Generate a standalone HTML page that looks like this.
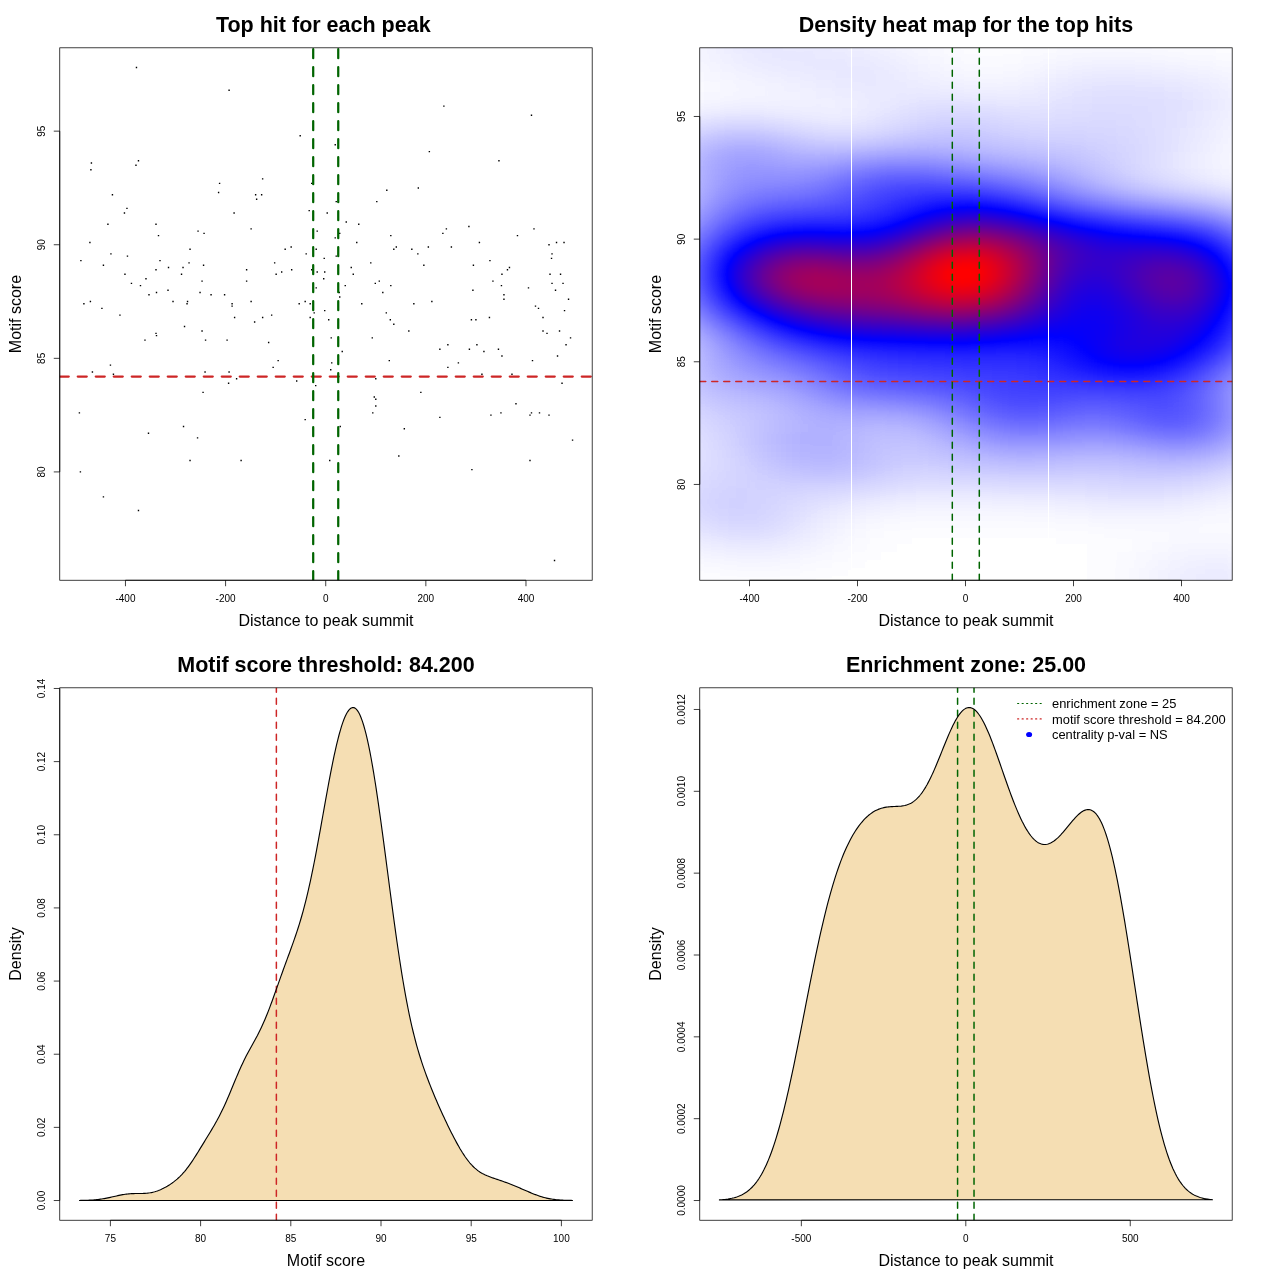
<!DOCTYPE html>
<html lang="en"><head><meta charset="utf-8"><title>Motif enrichment plots</title>
<style>
html,body{margin:0;padding:0;background:#fff}
body{width:1280px;height:1280px;overflow:hidden}
svg{display:block;font-family:'Liberation Sans', Arial, Helvetica, sans-serif}
text{fill:#000;text-anchor:middle}
.tk text{font-size:10px}
.lab{font-size:16px}
.ttl{font-size:21.5px;font-weight:bold}
.lg text{font-size:12.9px;text-anchor:start}
</style></head><body>
<svg width="1280" height="1280" viewBox="0 0 1280 1280">
<defs>
<clipPath id="c1"><rect x="59.76" y="47.81" width="532.43" height="532.43"/></clipPath>
<clipPath id="c2"><rect x="699.76" y="47.81" width="532.43" height="532.43"/></clipPath>
<clipPath id="c3"><rect x="59.76" y="687.81" width="532.43" height="532.43"/></clipPath>
<clipPath id="c4"><rect x="699.76" y="687.81" width="532.43" height="532.43"/></clipPath>
</defs>
<rect width="1280" height="1280" fill="#fff"/>
<g id="p1">
<path d="M135.77 66.84h1.4v1.4h-1.4zM137.77 159.98h1.4v1.4h-1.4zM135.27 164.53h1.4v1.4h-1.4zM90.71 162.26h1.4v1.4h-1.4zM90.21 169.07h1.4v1.4h-1.4zM228.39 89.56h1.4v1.4h-1.4zM299.49 134.99h1.4v1.4h-1.4zM261.94 178.16h1.4v1.4h-1.4zM443.18 105.46h1.4v1.4h-1.4zM334.53 144.08h1.4v1.4h-1.4zM428.66 150.9h1.4v1.4h-1.4zM530.79 114.55h1.4v1.4h-1.4zM498.25 159.98h1.4v1.4h-1.4zM111.74 194.06h1.4v1.4h-1.4zM126.26 207.69h1.4v1.4h-1.4zM123.75 212.23h1.4v1.4h-1.4zM107.23 223.59h1.4v1.4h-1.4zM155.3 223.59h1.4v1.4h-1.4zM157.8 234.95h1.4v1.4h-1.4zM89.21 241.77h1.4v1.4h-1.4zM189.34 248.58h1.4v1.4h-1.4zM110.24 253.13h1.4v1.4h-1.4zM126.76 255.4h1.4v1.4h-1.4zM80.2 259.94h1.4v1.4h-1.4zM159.3 259.94h1.4v1.4h-1.4zM188.34 262.21h1.4v1.4h-1.4zM102.73 264.49h1.4v1.4h-1.4zM167.81 266.76h1.4v1.4h-1.4zM182.33 266.76h1.4v1.4h-1.4zM155.3 269.03h1.4v1.4h-1.4zM124.26 273.57h1.4v1.4h-1.4zM180.83 273.57h1.4v1.4h-1.4zM145.28 278.12h1.4v1.4h-1.4zM130.76 282.66h1.4v1.4h-1.4zM139.78 284.93h1.4v1.4h-1.4zM167.31 289.48h1.4v1.4h-1.4zM155.8 291.75h1.4v1.4h-1.4zM148.29 294.02h1.4v1.4h-1.4zM89.71 300.84h1.4v1.4h-1.4zM172.32 300.84h1.4v1.4h-1.4zM186.84 300.84h1.4v1.4h-1.4zM83.2 303.11h1.4v1.4h-1.4zM186.34 303.11h1.4v1.4h-1.4zM101.22 307.65h1.4v1.4h-1.4zM218.88 182.7h1.4v1.4h-1.4zM311 182.7h1.4v1.4h-1.4zM217.88 191.79h1.4v1.4h-1.4zM254.93 194.06h1.4v1.4h-1.4zM260.94 194.06h1.4v1.4h-1.4zM255.93 198.6h1.4v1.4h-1.4zM308.5 209.96h1.4v1.4h-1.4zM233.4 212.23h1.4v1.4h-1.4zM250.42 228.14h1.4v1.4h-1.4zM197.35 230.41h1.4v1.4h-1.4zM203.36 232.68h1.4v1.4h-1.4zM316.51 230.41h1.4v1.4h-1.4zM290.47 246.31h1.4v1.4h-1.4zM284.47 248.58h1.4v1.4h-1.4zM315.51 248.58h1.4v1.4h-1.4zM305.49 253.13h1.4v1.4h-1.4zM323.52 257.67h1.4v1.4h-1.4zM273.95 262.21h1.4v1.4h-1.4zM202.86 264.49h1.4v1.4h-1.4zM245.92 269.03h1.4v1.4h-1.4zM290.98 269.03h1.4v1.4h-1.4zM311 269.03h1.4v1.4h-1.4zM280.96 271.3h1.4v1.4h-1.4zM316.51 271.3h1.4v1.4h-1.4zM324.02 271.3h1.4v1.4h-1.4zM275.45 273.57h1.4v1.4h-1.4zM323.02 278.12h1.4v1.4h-1.4zM201.36 280.39h1.4v1.4h-1.4zM245.92 280.39h1.4v1.4h-1.4zM315.51 287.2h1.4v1.4h-1.4zM199.35 291.75h1.4v1.4h-1.4zM210.37 294.02h1.4v1.4h-1.4zM223.89 294.02h1.4v1.4h-1.4zM250.42 300.84h1.4v1.4h-1.4zM304.49 300.84h1.4v1.4h-1.4zM298.49 303.11h1.4v1.4h-1.4zM309.5 303.11h1.4v1.4h-1.4zM231.4 303.11h1.4v1.4h-1.4zM231.4 305.38h1.4v1.4h-1.4zM324.02 309.92h1.4v1.4h-1.4zM313.5 312.19h1.4v1.4h-1.4zM417.64 187.25h1.4v1.4h-1.4zM386.1 189.52h1.4v1.4h-1.4zM335.53 200.88h1.4v1.4h-1.4zM376.09 200.88h1.4v1.4h-1.4zM326.52 212.23h1.4v1.4h-1.4zM345.55 221.32h1.4v1.4h-1.4zM358.06 223.59h1.4v1.4h-1.4zM445.68 228.14h1.4v1.4h-1.4zM339.04 232.68h1.4v1.4h-1.4zM442.17 232.68h1.4v1.4h-1.4zM390.11 234.95h1.4v1.4h-1.4zM334.53 237.22h1.4v1.4h-1.4zM356.06 241.77h1.4v1.4h-1.4zM395.61 246.31h1.4v1.4h-1.4zM427.66 246.31h1.4v1.4h-1.4zM450.69 246.31h1.4v1.4h-1.4zM393.11 248.58h1.4v1.4h-1.4zM411.13 248.58h1.4v1.4h-1.4zM417.14 253.13h1.4v1.4h-1.4zM335.53 255.4h1.4v1.4h-1.4zM370.08 262.21h1.4v1.4h-1.4zM423.15 264.49h1.4v1.4h-1.4zM350.55 266.76h1.4v1.4h-1.4zM352.56 273.57h1.4v1.4h-1.4zM378.59 280.39h1.4v1.4h-1.4zM374.59 282.66h1.4v1.4h-1.4zM344.55 284.93h1.4v1.4h-1.4zM390.11 284.93h1.4v1.4h-1.4zM382.1 291.75h1.4v1.4h-1.4zM338.54 291.75h1.4v1.4h-1.4zM339.04 296.29h1.4v1.4h-1.4zM431.16 300.84h1.4v1.4h-1.4zM361.07 303.11h1.4v1.4h-1.4zM413.14 303.11h1.4v1.4h-1.4zM385.6 312.19h1.4v1.4h-1.4zM468.21 225.87h1.4v1.4h-1.4zM533.29 228.14h1.4v1.4h-1.4zM516.77 234.95h1.4v1.4h-1.4zM478.72 241.77h1.4v1.4h-1.4zM555.82 241.77h1.4v1.4h-1.4zM563.33 241.77h1.4v1.4h-1.4zM548.31 244.04h1.4v1.4h-1.4zM551.32 253.13h1.4v1.4h-1.4zM550.82 257.67h1.4v1.4h-1.4zM489.24 259.94h1.4v1.4h-1.4zM472.71 264.49h1.4v1.4h-1.4zM508.76 266.76h1.4v1.4h-1.4zM506.76 269.03h1.4v1.4h-1.4zM501.25 273.57h1.4v1.4h-1.4zM549.32 273.57h1.4v1.4h-1.4zM559.83 273.57h1.4v1.4h-1.4zM492.24 280.39h1.4v1.4h-1.4zM551.32 282.66h1.4v1.4h-1.4zM562.33 282.66h1.4v1.4h-1.4zM500.75 284.93h1.4v1.4h-1.4zM527.79 287.2h1.4v1.4h-1.4zM472.21 289.48h1.4v1.4h-1.4zM554.82 289.48h1.4v1.4h-1.4zM503.25 294.02h1.4v1.4h-1.4zM503.25 298.56h1.4v1.4h-1.4zM567.84 298.56h1.4v1.4h-1.4zM534.8 305.38h1.4v1.4h-1.4zM537.8 307.65h1.4v1.4h-1.4zM563.83 309.92h1.4v1.4h-1.4zM119.25 314.47h1.4v1.4h-1.4zM183.83 325.82h1.4v1.4h-1.4zM155.3 332.64h1.4v1.4h-1.4zM155.8 334.91h1.4v1.4h-1.4zM144.28 339.46h1.4v1.4h-1.4zM109.74 364.45h1.4v1.4h-1.4zM91.71 371.26h1.4v1.4h-1.4zM112.74 373.53h1.4v1.4h-1.4zM78.7 412.15h1.4v1.4h-1.4zM182.83 425.78h1.4v1.4h-1.4zM147.79 432.6h1.4v1.4h-1.4zM270.95 314.47h1.4v1.4h-1.4zM233.9 316.74h1.4v1.4h-1.4zM261.94 316.74h1.4v1.4h-1.4zM309.5 316.74h1.4v1.4h-1.4zM253.93 321.28h1.4v1.4h-1.4zM201.36 330.37h1.4v1.4h-1.4zM204.86 339.46h1.4v1.4h-1.4zM226.39 339.46h1.4v1.4h-1.4zM267.94 341.73h1.4v1.4h-1.4zM277.46 359.9h1.4v1.4h-1.4zM272.45 366.72h1.4v1.4h-1.4zM204.36 371.26h1.4v1.4h-1.4zM228.39 371.26h1.4v1.4h-1.4zM235.9 378.08h1.4v1.4h-1.4zM295.98 380.35h1.4v1.4h-1.4zM227.89 382.62h1.4v1.4h-1.4zM315.01 384.89h1.4v1.4h-1.4zM202.36 391.71h1.4v1.4h-1.4zM304.49 418.97h1.4v1.4h-1.4zM196.85 437.14h1.4v1.4h-1.4zM328.02 319.01h1.4v1.4h-1.4zM389.61 319.01h1.4v1.4h-1.4zM393.11 323.55h1.4v1.4h-1.4zM408.13 330.37h1.4v1.4h-1.4zM330.53 337.18h1.4v1.4h-1.4zM371.58 337.18h1.4v1.4h-1.4zM447.18 344h1.4v1.4h-1.4zM439.17 348.54h1.4v1.4h-1.4zM341.54 350.81h1.4v1.4h-1.4zM388.6 359.9h1.4v1.4h-1.4zM331.03 362.17h1.4v1.4h-1.4zM457.69 362.17h1.4v1.4h-1.4zM447.18 366.72h1.4v1.4h-1.4zM330.03 368.99h1.4v1.4h-1.4zM375.09 378.08h1.4v1.4h-1.4zM420.15 391.71h1.4v1.4h-1.4zM373.58 396.25h1.4v1.4h-1.4zM375.09 398.52h1.4v1.4h-1.4zM375.09 405.34h1.4v1.4h-1.4zM372.08 412.15h1.4v1.4h-1.4zM439.17 416.7h1.4v1.4h-1.4zM339.54 425.78h1.4v1.4h-1.4zM403.62 428.06h1.4v1.4h-1.4zM488.74 316.74h1.4v1.4h-1.4zM542.31 316.74h1.4v1.4h-1.4zM470.71 319.01h1.4v1.4h-1.4zM475.22 319.01h1.4v1.4h-1.4zM542.31 330.37h1.4v1.4h-1.4zM558.83 330.37h1.4v1.4h-1.4zM546.31 332.64h1.4v1.4h-1.4zM569.84 337.18h1.4v1.4h-1.4zM476.22 344h1.4v1.4h-1.4zM565.34 344h1.4v1.4h-1.4zM468.71 348.54h1.4v1.4h-1.4zM497.75 348.54h1.4v1.4h-1.4zM483.23 350.81h1.4v1.4h-1.4zM501.25 355.36h1.4v1.4h-1.4zM556.83 355.36h1.4v1.4h-1.4zM531.79 359.9h1.4v1.4h-1.4zM481.23 373.53h1.4v1.4h-1.4zM511.27 373.53h1.4v1.4h-1.4zM561.33 382.62h1.4v1.4h-1.4zM515.27 403.07h1.4v1.4h-1.4zM500.25 412.15h1.4v1.4h-1.4zM530.79 412.15h1.4v1.4h-1.4zM538.8 412.15h1.4v1.4h-1.4zM490.24 414.43h1.4v1.4h-1.4zM529.29 414.43h1.4v1.4h-1.4zM548.31 414.43h1.4v1.4h-1.4zM571.85 439.41h1.4v1.4h-1.4zM189.34 459.86h1.4v1.4h-1.4zM79.7 471.22h1.4v1.4h-1.4zM102.73 496.21h1.4v1.4h-1.4zM137.77 509.84h1.4v1.4h-1.4zM240.41 459.86h1.4v1.4h-1.4zM398.12 455.32h1.4v1.4h-1.4zM329.03 459.86h1.4v1.4h-1.4zM529.29 459.86h1.4v1.4h-1.4zM471.21 468.95h1.4v1.4h-1.4zM553.82 559.82h1.4v1.4h-1.4z" fill="#000"/>
<g clip-path="url(#c1)">
<line x1="59.76" y1="376.5" x2="592.19" y2="376.5" stroke="#CD2626" stroke-width="2.25" stroke-dasharray="9 9" stroke-linecap="round"/>
<line x1="313.2" y1="580.24" x2="313.2" y2="47.81" stroke="#006400" stroke-width="2.25" stroke-dasharray="9 9" stroke-linecap="round"/>
<line x1="338.24" y1="580.24" x2="338.24" y2="47.81" stroke="#006400" stroke-width="2.25" stroke-dasharray="9 9" stroke-linecap="round"/>
</g>
<rect x="59.76" y="47.81" width="532.43" height="532.43" fill="none" stroke="#000" stroke-width="0.75"/>
<path d="M125.46 580.24H525.98M125.46 580.24v5.98M225.59 580.24v5.98M325.72 580.24v5.98M425.85 580.24v5.98M525.98 580.24v5.98M59.76 471.92V131.15M59.76 471.92h-5.98M59.76 358.33h-5.98M59.76 244.74h-5.98M59.76 131.15h-5.98" fill="none" stroke="#000" stroke-width="0.75"/>
<g class="tk">
<text x="125.46" y="602">-400</text>
<text x="225.59" y="602">-200</text>
<text x="325.72" y="602">0</text>
<text x="425.85" y="602">200</text>
<text x="525.98" y="602">400</text>
<text transform="translate(44.5 471.92) rotate(-90)">80</text>
<text transform="translate(44.5 358.33) rotate(-90)">85</text>
<text transform="translate(44.5 244.74) rotate(-90)">90</text>
<text transform="translate(44.5 131.15) rotate(-90)">95</text>
</g>
<text class="lab" x="325.98" y="626.2">Distance to peak summit</text>
<text class="lab" transform="translate(21.4 314.02) rotate(-90)">Motif score</text>
<text class="ttl" x="323.28" y="31.6">Top hit for each peak</text>
</g>
<g id="p2">
<filter id="hm" filterUnits="userSpaceOnUse" x="640" y="0" width="640" height="640" color-interpolation-filters="sRGB"><feGaussianBlur stdDeviation="16 8"/><feComponentTransfer><feFuncR type="table" tableValues="1 0.9167 0.8333 0.75 0.6667 0.5833 0.5 0.4167 0.3333 0.25 0.1667 0.0833 0 0.0833 0.1667 0.25 0.3333 0.4167 0.5 0.5833 0.6667 0.75 0.8333 0.9167 1 1"/><feFuncG type="table" tableValues="1 0.9167 0.8333 0.75 0.6667 0.5833 0.5 0.4167 0.3333 0.25 0.1667 0.0833 0 0 0 0 0 0 0 0 0 0 0 0 0 0"/><feFuncB type="table" tableValues="1 1 1 1 1 1 1 1 1 1 1 1 1 0.9167 0.8333 0.75 0.6667 0.5833 0.5 0.4167 0.3333 0.25 0.1667 0.0833 0 0"/></feComponentTransfer></filter>
<g clip-path="url(#c2)"><g filter="url(#hm)" shape-rendering="crispEdges">
<rect x="640" y="0" width="640" height="640" fill="#000"/>
<path fill="#000000" d="M640 16h16v8h-16zM928 16h352v8h-352zM944 24h336v8h-336zM960 32h80v8h-80zM1184 32h96v8h-96zM1232 40h48v8h-48zM1264 48h16v8h-16zM640 80h16v8h-16zM912 536h144v8h-144zM896 544h192v8h-192zM880 552h208v8h-208zM864 560h224v8h-224zM640 568h16v8h-16zM848 568h240v8h-240zM640 576h48v8h-48zM816 576h272v8h-272zM640 584h448v8h-448zM640 592h448v8h-448zM640 600h464v8h-464zM640 608h464v8h-464z"/>
<path fill="#010101" d="M656 16h16v8h-16zM880 16h48v8h-48zM640 24h32v8h-32zM912 24h32v8h-32zM640 32h32v8h-32zM928 32h32v8h-32zM1040 32h144v8h-144zM640 40h16v8h-16zM944 40h112v8h-112zM1152 40h80v8h-80zM640 48h16v8h-16zM960 48h64v8h-64zM1216 48h48v8h-48zM640 56h16v8h-16zM976 56h16v8h-16zM1248 56h32v8h-32zM640 64h32v8h-32zM1264 64h16v8h-16zM640 72h32v8h-32zM656 80h32v8h-32zM640 88h32v8h-32zM640 96h16v8h-16zM1264 136h16v8h-16zM1264 144h16v8h-16zM1264 152h16v8h-16zM1264 160h16v8h-16zM1264 168h16v8h-16zM1264 504h16v8h-16zM1248 512h32v8h-32zM1232 520h48v8h-48zM880 528h224v8h-224zM1248 528h32v8h-32zM864 536h48v8h-48zM1056 536h80v8h-80zM1264 536h16v8h-16zM864 544h32v8h-32zM1088 544h48v8h-48zM640 552h16v8h-16zM848 552h32v8h-32zM1088 552h32v8h-32zM640 560h32v8h-32zM832 560h32v8h-32zM1088 560h32v8h-32zM656 568h64v8h-64zM800 568h48v8h-48zM1088 568h32v8h-32zM688 576h128v8h-128zM1088 576h16v8h-16zM1088 584h32v8h-32zM1088 592h32v8h-32zM1104 600h16v8h-16zM1104 608h32v8h-32z"/>
<path fill="#020202" d="M672 16h32v8h-32zM848 16h32v8h-32zM672 24h16v8h-16zM880 24h32v8h-32zM912 32h16v8h-16zM656 40h16v8h-16zM928 40h16v8h-16zM1056 40h96v8h-96zM656 48h16v8h-16zM944 48h16v8h-16zM1024 48h32v8h-32zM1168 48h48v8h-48zM656 56h16v8h-16zM960 56h16v8h-16zM992 56h32v8h-32zM1216 56h32v8h-32zM672 64h16v8h-16zM976 64h32v8h-32zM1248 64h16v8h-16zM672 72h16v8h-16zM1264 72h16v8h-16zM688 80h16v8h-16zM1264 80h16v8h-16zM672 88h32v8h-32zM656 96h32v8h-32zM640 104h16v8h-16zM1264 112h16v8h-16zM1264 120h16v8h-16zM1264 128h16v8h-16zM1248 136h16v8h-16zM1248 144h16v8h-16zM1248 152h16v8h-16zM1248 160h16v8h-16zM1248 168h16v8h-16zM1264 176h16v8h-16zM1264 496h16v8h-16zM1248 504h16v8h-16zM1232 512h16v8h-16zM880 520h208v8h-208zM1200 520h32v8h-32zM864 528h16v8h-16zM1104 528h144v8h-144zM848 536h16v8h-16zM1136 536h32v8h-32zM1232 536h32v8h-32zM640 544h16v8h-16zM848 544h16v8h-16zM1136 544h16v8h-16zM1264 544h16v8h-16zM656 552h16v8h-16zM832 552h16v8h-16zM1120 552h16v8h-16zM672 560h32v8h-32zM800 560h32v8h-32zM1120 560h16v8h-16zM720 568h80v8h-80zM1120 568h16v8h-16zM1104 576h16v8h-16zM1120 584h16v8h-16zM1120 592h16v8h-16zM1120 600h16v8h-16zM1136 608h16v8h-16zM1264 608h16v8h-16z"/>
<path fill="#030303" d="M704 16h16v8h-16zM816 16h32v8h-32zM688 24h16v8h-16zM848 24h32v8h-32zM672 32h16v8h-16zM880 32h32v8h-32zM672 40h16v8h-16zM912 40h16v8h-16zM672 48h16v8h-16zM928 48h16v8h-16zM1056 48h112v8h-112zM672 56h16v8h-16zM944 56h16v8h-16zM1024 56h16v8h-16zM1184 56h32v8h-32zM688 64h16v8h-16zM944 64h32v8h-32zM1008 64h16v8h-16zM1232 64h16v8h-16zM688 72h16v8h-16zM1248 72h16v8h-16zM704 80h16v8h-16zM1248 80h16v8h-16zM704 88h32v8h-32zM1264 88h16v8h-16zM688 96h16v8h-16zM1264 96h16v8h-16zM656 104h16v8h-16zM1264 104h16v8h-16zM640 112h16v8h-16zM1248 120h16v8h-16zM1248 128h16v8h-16zM1232 144h16v8h-16zM1232 152h16v8h-16zM1232 160h16v8h-16zM1232 504h16v8h-16zM896 512h160v8h-160zM1200 512h32v8h-32zM864 520h16v8h-16zM1088 520h112v8h-112zM848 528h16v8h-16zM640 536h16v8h-16zM1168 536h64v8h-64zM656 544h16v8h-16zM832 544h16v8h-16zM1152 544h16v8h-16zM1248 544h16v8h-16zM672 552h16v8h-16zM816 552h16v8h-16zM1136 552h16v8h-16zM1264 552h16v8h-16zM704 560h32v8h-32zM784 560h16v8h-16zM1136 560h16v8h-16zM1120 576h16v8h-16zM1136 592h16v8h-16zM1136 600h16v8h-16zM1264 600h16v8h-16zM1152 608h32v8h-32zM1248 608h16v8h-16z"/>
<path fill="#040404" d="M720 16h16v8h-16zM800 16h16v8h-16zM832 24h16v8h-16zM688 32h16v8h-16zM864 32h16v8h-16zM688 40h16v8h-16zM896 40h16v8h-16zM688 48h16v8h-16zM912 48h16v8h-16zM688 56h16v8h-16zM928 56h16v8h-16zM1040 56h32v8h-32zM1152 56h32v8h-32zM1024 64h16v8h-16zM1216 64h16v8h-16zM704 72h16v8h-16zM960 72h64v8h-64zM1232 72h16v8h-16zM720 80h16v8h-16zM736 88h16v8h-16zM1248 88h16v8h-16zM704 96h16v8h-16zM1248 96h16v8h-16zM672 104h16v8h-16zM1248 104h16v8h-16zM1248 112h16v8h-16zM1232 128h16v8h-16zM1232 136h16v8h-16zM1232 168h16v8h-16zM1248 176h16v8h-16zM1264 184h16v8h-16zM1264 488h16v8h-16zM1248 496h16v8h-16zM1216 504h16v8h-16zM880 512h16v8h-16zM1056 512h32v8h-32zM1184 512h16v8h-16zM848 520h16v8h-16zM640 528h16v8h-16zM656 536h16v8h-16zM832 536h16v8h-16zM672 544h16v8h-16zM816 544h16v8h-16zM1168 544h80v8h-80zM688 552h16v8h-16zM800 552h16v8h-16zM1152 552h16v8h-16zM1248 552h16v8h-16zM736 560h48v8h-48zM1264 560h16v8h-16zM1136 568h16v8h-16zM1136 576h16v8h-16zM1136 584h16v8h-16zM1264 592h16v8h-16zM1152 600h16v8h-16zM1248 600h16v8h-16zM1184 608h64v8h-64z"/>
<path fill="#050505" d="M736 16h64v8h-64zM704 24h16v8h-16zM816 24h16v8h-16zM848 32h16v8h-16zM880 40h16v8h-16zM896 48h16v8h-16zM912 56h16v8h-16zM1072 56h80v8h-80zM704 64h16v8h-16zM928 64h16v8h-16zM1040 64h16v8h-16zM1184 64h32v8h-32zM720 72h16v8h-16zM944 72h16v8h-16zM1024 72h16v8h-16zM1216 72h16v8h-16zM736 80h32v8h-32zM976 80h32v8h-32zM1232 80h16v8h-16zM752 88h32v8h-32zM720 96h48v8h-48zM688 104h16v8h-16zM656 112h16v8h-16zM640 120h16v8h-16zM1232 120h16v8h-16zM1216 144h16v8h-16zM1216 152h16v8h-16zM1216 160h16v8h-16zM1216 168h16v8h-16zM1232 176h16v8h-16zM1232 496h16v8h-16zM912 504h112v8h-112zM1200 504h16v8h-16zM864 512h16v8h-16zM1088 512h96v8h-96zM640 520h16v8h-16zM832 528h16v8h-16zM816 536h16v8h-16zM704 552h16v8h-16zM784 552h16v8h-16zM1168 552h16v8h-16zM1232 552h16v8h-16zM1152 560h16v8h-16zM1264 568h16v8h-16zM1264 576h16v8h-16zM1264 584h16v8h-16zM1152 592h16v8h-16zM1168 600h16v8h-16zM1232 600h16v8h-16z"/>
<path fill="#060606" d="M720 24h16v8h-16zM800 24h16v8h-16zM704 32h16v8h-16zM832 32h16v8h-16zM704 40h16v8h-16zM864 40h16v8h-16zM704 48h16v8h-16zM704 56h16v8h-16zM720 64h16v8h-16zM912 64h16v8h-16zM1056 64h16v8h-16zM1168 64h16v8h-16zM736 72h16v8h-16zM928 72h16v8h-16zM768 80h16v8h-16zM960 80h16v8h-16zM1008 80h16v8h-16zM784 88h16v8h-16zM1232 88h16v8h-16zM768 96h48v8h-48zM1232 96h16v8h-16zM704 104h16v8h-16zM1232 104h16v8h-16zM1232 112h16v8h-16zM1216 128h16v8h-16zM1216 136h16v8h-16zM1248 184h16v8h-16zM640 440h16v8h-16zM640 448h16v8h-16zM640 456h16v8h-16zM1264 480h16v8h-16zM1248 488h16v8h-16zM896 504h16v8h-16zM1024 504h48v8h-48zM1184 504h16v8h-16zM640 512h16v8h-16zM848 512h16v8h-16zM832 520h16v8h-16zM656 528h16v8h-16zM672 536h16v8h-16zM688 544h16v8h-16zM800 544h16v8h-16zM720 552h64v8h-64zM1184 552h48v8h-48zM1168 560h16v8h-16zM1248 560h16v8h-16zM1152 568h16v8h-16zM1152 576h16v8h-16zM1152 584h16v8h-16zM1168 592h16v8h-16zM1248 592h16v8h-16zM1184 600h48v8h-48z"/>
<path fill="#070707" d="M736 24h64v8h-64zM720 32h16v8h-16zM816 32h16v8h-16zM848 40h16v8h-16zM880 48h16v8h-16zM720 56h16v8h-16zM896 56h16v8h-16zM736 64h16v8h-16zM1072 64h16v8h-16zM1136 64h32v8h-32zM752 72h16v8h-16zM912 72h16v8h-16zM1040 72h16v8h-16zM1200 72h16v8h-16zM784 80h16v8h-16zM928 80h32v8h-32zM1024 80h16v8h-16zM1216 80h16v8h-16zM800 88h16v8h-16zM816 96h16v8h-16zM720 104h16v8h-16zM768 104h80v8h-80zM672 112h16v8h-16zM1216 120h16v8h-16zM1200 152h16v8h-16zM1200 160h16v8h-16zM1200 168h16v8h-16zM1216 176h16v8h-16zM1264 192h16v8h-16zM640 432h16v8h-16zM640 464h16v8h-16zM640 472h16v8h-16zM1216 496h16v8h-16zM864 504h32v8h-32zM1072 504h16v8h-16zM1168 504h16v8h-16zM816 528h16v8h-16zM784 544h16v8h-16zM1184 560h16v8h-16zM1232 560h16v8h-16zM1168 568h16v8h-16zM1248 568h16v8h-16zM1248 576h16v8h-16zM1168 584h16v8h-16zM1248 584h16v8h-16zM1184 592h16v8h-16zM1232 592h16v8h-16z"/>
<path fill="#080808" d="M800 32h16v8h-16zM720 40h16v8h-16zM832 40h16v8h-16zM720 48h16v8h-16zM864 48h16v8h-16zM880 56h16v8h-16zM896 64h16v8h-16zM1088 64h48v8h-48zM768 72h16v8h-16zM1056 72h16v8h-16zM1184 72h16v8h-16zM800 80h16v8h-16zM816 88h16v8h-16zM960 88h64v8h-64zM1216 88h16v8h-16zM832 96h32v8h-32zM736 104h32v8h-32zM848 104h16v8h-16zM816 112h32v8h-32zM1216 112h16v8h-16zM656 120h16v8h-16zM640 128h16v8h-16zM1200 136h16v8h-16zM1200 144h16v8h-16zM640 416h16v8h-16zM640 424h16v8h-16zM656 448h16v8h-16zM656 456h16v8h-16zM1264 472h16v8h-16zM640 480h16v8h-16zM1248 480h16v8h-16zM640 488h16v8h-16zM1232 488h16v8h-16zM640 496h16v8h-16zM912 496h80v8h-80zM1200 496h16v8h-16zM640 504h16v8h-16zM1088 504h80v8h-80zM832 512h16v8h-16zM656 520h16v8h-16zM816 520h16v8h-16zM800 536h16v8h-16zM704 544h16v8h-16zM1200 560h32v8h-32zM1232 568h16v8h-16zM1168 576h16v8h-16zM1232 584h16v8h-16zM1200 592h32v8h-32z"/>
<path fill="#090909" d="M736 32h64v8h-64zM816 40h16v8h-16zM848 48h16v8h-16zM736 56h16v8h-16zM752 64h32v8h-32zM784 72h32v8h-32zM896 72h16v8h-16zM1152 72h32v8h-32zM816 80h16v8h-16zM912 80h16v8h-16zM1040 80h16v8h-16zM1200 80h16v8h-16zM832 88h32v8h-32zM944 88h16v8h-16zM1024 88h16v8h-16zM864 96h16v8h-16zM1216 96h16v8h-16zM1216 104h16v8h-16zM688 112h16v8h-16zM800 112h16v8h-16zM848 112h16v8h-16zM1200 128h16v8h-16zM1184 152h16v8h-16zM1184 160h16v8h-16zM1184 168h16v8h-16zM1200 176h16v8h-16zM1232 184h16v8h-16zM640 408h16v8h-16zM656 432h16v8h-16zM656 440h16v8h-16zM656 464h16v8h-16zM896 496h16v8h-16zM992 496h64v8h-64zM848 504h16v8h-16zM672 528h16v8h-16zM688 536h16v8h-16zM720 544h64v8h-64zM1184 568h48v8h-48zM1184 576h16v8h-16zM1232 576h16v8h-16zM1184 584h48v8h-48z"/>
<path fill="#0a0a0a" d="M736 40h16v8h-16zM784 40h32v8h-32zM736 48h16v8h-16zM816 48h32v8h-32zM752 56h16v8h-16zM848 56h32v8h-32zM784 64h16v8h-16zM880 64h16v8h-16zM816 72h16v8h-16zM880 72h16v8h-16zM1072 72h32v8h-32zM1120 72h32v8h-32zM832 80h16v8h-16zM880 80h32v8h-32zM1056 80h16v8h-16zM1184 80h16v8h-16zM864 88h80v8h-80zM1040 88h16v8h-16zM1200 88h16v8h-16zM880 96h16v8h-16zM992 96h32v8h-32zM864 104h16v8h-16zM784 112h16v8h-16zM1200 112h16v8h-16zM1200 120h16v8h-16zM640 136h16v8h-16zM1184 144h16v8h-16zM640 344h16v8h-16zM640 352h16v8h-16zM640 360h16v8h-16zM640 392h16v8h-16zM640 400h16v8h-16zM656 472h16v8h-16zM1216 488h16v8h-16zM880 496h16v8h-16zM1056 496h32v8h-32zM1184 496h16v8h-16zM832 504h16v8h-16zM656 512h16v8h-16zM816 512h16v8h-16zM800 528h16v8h-16zM784 536h16v8h-16zM1200 576h32v8h-32z"/>
<path fill="#0b0b0b" d="M752 40h32v8h-32zM752 48h64v8h-64zM768 56h80v8h-80zM800 64h80v8h-80zM832 72h48v8h-48zM1104 72h16v8h-16zM848 80h32v8h-32zM1168 80h16v8h-16zM896 96h16v8h-16zM976 96h16v8h-16zM1024 96h16v8h-16zM1200 96h16v8h-16zM880 104h16v8h-16zM1200 104h16v8h-16zM704 112h16v8h-16zM768 112h16v8h-16zM864 112h16v8h-16zM672 120h16v8h-16zM816 120h48v8h-48zM656 128h16v8h-16zM1184 128h16v8h-16zM1184 136h16v8h-16zM640 144h16v8h-16zM1248 192h16v8h-16zM640 336h16v8h-16zM640 368h16v8h-16zM640 376h16v8h-16zM640 384h16v8h-16zM656 424h16v8h-16zM672 440h16v8h-16zM672 448h16v8h-16zM672 456h16v8h-16zM1264 464h16v8h-16zM1248 472h16v8h-16zM656 480h16v8h-16zM1232 480h16v8h-16zM864 496h16v8h-16zM1088 496h16v8h-16zM1168 496h16v8h-16zM656 504h16v8h-16zM672 520h16v8h-16zM800 520h16v8h-16zM704 536h16v8h-16z"/>
<path fill="#0c0c0c" d="M1072 80h32v8h-32zM1136 80h32v8h-32zM1056 88h16v8h-16zM1184 88h16v8h-16zM912 96h64v8h-64zM1040 96h16v8h-16zM720 112h48v8h-48zM1184 112h16v8h-16zM1184 120h16v8h-16zM640 152h16v8h-16zM1168 152h16v8h-16zM1168 160h16v8h-16zM640 168h16v8h-16zM1168 168h16v8h-16zM640 176h16v8h-16zM1184 176h16v8h-16zM640 184h16v8h-16zM1216 184h16v8h-16zM640 192h16v8h-16zM640 200h16v8h-16zM1264 200h16v8h-16zM640 328h16v8h-16zM656 416h16v8h-16zM672 432h16v8h-16zM672 464h16v8h-16zM656 488h16v8h-16zM912 488h80v8h-80zM1200 488h16v8h-16zM656 496h16v8h-16zM848 496h16v8h-16zM1104 496h64v8h-64zM816 504h16v8h-16zM688 528h16v8h-16zM784 528h16v8h-16zM720 536h16v8h-16zM768 536h16v8h-16z"/>
<path fill="#0d0d0d" d="M1104 80h32v8h-32zM1072 88h16v8h-16zM1168 88h16v8h-16zM1056 96h16v8h-16zM1184 96h16v8h-16zM896 104h16v8h-16zM992 104h64v8h-64zM1184 104h16v8h-16zM880 112h16v8h-16zM800 120h16v8h-16zM864 120h16v8h-16zM1168 128h16v8h-16zM1168 136h16v8h-16zM1168 144h16v8h-16zM640 160h16v8h-16zM656 408h16v8h-16zM672 472h16v8h-16zM896 488h16v8h-16zM992 488h64v8h-64zM672 512h16v8h-16zM800 512h16v8h-16zM736 536h32v8h-32z"/>
<path fill="#0e0e0e" d="M1088 88h80v8h-80zM1072 96h16v8h-16zM1168 96h16v8h-16zM976 104h16v8h-16zM1056 104h16v8h-16zM1168 104h16v8h-16zM1168 112h16v8h-16zM688 120h16v8h-16zM784 120h16v8h-16zM1168 120h16v8h-16zM1152 160h16v8h-16zM1168 176h16v8h-16zM1200 184h16v8h-16zM640 208h16v8h-16zM656 400h16v8h-16zM672 424h16v8h-16zM688 440h16v8h-16zM688 448h16v8h-16zM688 456h16v8h-16zM1264 456h16v8h-16zM688 464h16v8h-16zM672 480h16v8h-16zM1216 480h16v8h-16zM880 488h16v8h-16zM1056 488h32v8h-32zM1184 488h16v8h-16zM832 496h16v8h-16zM800 504h16v8h-16zM688 520h16v8h-16zM784 520h16v8h-16zM704 528h16v8h-16z"/>
<path fill="#0f0f0f" d="M1088 96h80v8h-80zM912 104h16v8h-16zM960 104h16v8h-16zM1072 104h16v8h-16zM1152 104h16v8h-16zM896 112h16v8h-16zM1008 112h48v8h-48zM1152 112h16v8h-16zM880 120h16v8h-16zM1152 120h16v8h-16zM672 128h16v8h-16zM832 128h16v8h-16zM1152 128h16v8h-16zM656 136h16v8h-16zM1152 136h16v8h-16zM1152 144h16v8h-16zM1152 152h16v8h-16zM1152 168h16v8h-16zM1232 192h16v8h-16zM640 320h16v8h-16zM656 392h16v8h-16zM672 416h16v8h-16zM688 432h16v8h-16zM1248 464h16v8h-16zM1232 472h16v8h-16zM928 480h16v8h-16zM672 488h16v8h-16zM864 488h16v8h-16zM1088 488h16v8h-16zM1168 488h16v8h-16zM672 496h16v8h-16zM816 496h16v8h-16zM672 504h16v8h-16zM768 528h16v8h-16z"/>
<path fill="#101010" d="M928 104h32v8h-32zM1088 104h64v8h-64zM1056 112h32v8h-32zM1136 112h16v8h-16zM1136 120h16v8h-16zM816 128h16v8h-16zM848 128h16v8h-16zM640 216h16v8h-16zM656 344h16v8h-16zM656 352h16v8h-16zM656 360h16v8h-16zM656 384h16v8h-16zM672 408h16v8h-16zM704 448h16v8h-16zM1264 448h16v8h-16zM704 456h16v8h-16zM688 472h16v8h-16zM912 480h16v8h-16zM944 480h32v8h-32zM1200 480h16v8h-16zM1104 488h64v8h-64zM800 496h16v8h-16zM784 512h16v8h-16zM720 528h16v8h-16zM752 528h16v8h-16z"/>
<path fill="#111111" d="M912 112h16v8h-16zM992 112h16v8h-16zM1088 112h48v8h-48zM704 120h16v8h-16zM768 120h16v8h-16zM1024 120h48v8h-48zM1120 120h16v8h-16zM864 128h16v8h-16zM1136 128h16v8h-16zM1136 136h16v8h-16zM656 144h16v8h-16zM1136 152h16v8h-16zM1136 160h16v8h-16zM1136 168h16v8h-16zM1152 176h16v8h-16zM1184 184h16v8h-16zM1248 200h16v8h-16zM1264 208h16v8h-16zM656 336h16v8h-16zM656 368h16v8h-16zM656 376h16v8h-16zM688 424h16v8h-16zM704 440h16v8h-16zM704 464h16v8h-16zM688 480h16v8h-16zM896 480h16v8h-16zM976 480h32v8h-32zM848 488h16v8h-16zM784 504h16v8h-16zM688 512h16v8h-16zM704 520h16v8h-16zM768 520h16v8h-16zM736 528h16v8h-16z"/>
<path fill="#121212" d="M976 112h16v8h-16zM720 120h16v8h-16zM752 120h16v8h-16zM896 120h16v8h-16zM1008 120h16v8h-16zM1072 120h48v8h-48zM800 128h16v8h-16zM1120 128h16v8h-16zM1136 144h16v8h-16zM656 176h16v8h-16zM656 184h16v8h-16zM640 224h16v8h-16zM640 312h16v8h-16zM672 400h16v8h-16zM688 416h16v8h-16zM704 432h16v8h-16zM704 472h16v8h-16zM1216 472h16v8h-16zM880 480h16v8h-16zM1008 480h80v8h-80zM1184 480h16v8h-16zM688 488h16v8h-16zM832 488h16v8h-16zM784 496h16v8h-16zM688 504h16v8h-16zM768 512h16v8h-16z"/>
<path fill="#131313" d="M928 112h48v8h-48zM736 120h16v8h-16zM880 128h16v8h-16zM1088 128h32v8h-32zM1120 136h16v8h-16zM1120 144h16v8h-16zM656 152h16v8h-16zM656 160h16v8h-16zM656 168h16v8h-16zM656 192h16v8h-16zM1216 192h16v8h-16zM656 328h16v8h-16zM704 424h16v8h-16zM1264 440h16v8h-16zM720 456h16v8h-16zM1248 456h16v8h-16zM720 464h16v8h-16zM1232 464h16v8h-16zM912 472h32v8h-32zM704 480h16v8h-16zM1088 480h32v8h-32zM1168 480h16v8h-16zM800 488h32v8h-32zM688 496h16v8h-16zM768 504h16v8h-16zM704 512h16v8h-16zM720 520h16v8h-16zM752 520h16v8h-16z"/>
<path fill="#141414" d="M912 120h16v8h-16zM992 120h16v8h-16zM688 128h16v8h-16zM784 128h16v8h-16zM1024 128h64v8h-64zM672 136h16v8h-16zM1104 136h16v8h-16zM1120 152h16v8h-16zM1120 160h16v8h-16zM1136 176h16v8h-16zM1168 184h16v8h-16zM656 200h16v8h-16zM640 232h16v8h-16zM640 304h16v8h-16zM672 392h16v8h-16zM688 408h16v8h-16zM720 448h16v8h-16zM720 472h16v8h-16zM896 472h16v8h-16zM944 472h16v8h-16zM720 480h16v8h-16zM864 480h16v8h-16zM1120 480h48v8h-48zM704 488h16v8h-16zM784 488h16v8h-16zM768 496h16v8h-16zM736 520h16v8h-16z"/>
<path fill="#151515" d="M976 120h16v8h-16zM1008 128h16v8h-16zM832 136h16v8h-16zM1088 136h16v8h-16zM1104 144h16v8h-16zM1120 168h16v8h-16zM704 416h16v8h-16zM720 432h16v8h-16zM1264 432h16v8h-16zM720 440h16v8h-16zM736 464h16v8h-16zM736 472h16v8h-16zM960 472h16v8h-16zM1200 472h16v8h-16zM736 480h16v8h-16zM848 480h16v8h-16zM752 488h32v8h-32zM704 496h16v8h-16zM752 496h16v8h-16zM704 504h16v8h-16zM752 504h16v8h-16zM720 512h16v8h-16zM752 512h16v8h-16z"/>
<path fill="#161616" d="M928 120h16v8h-16zM960 120h16v8h-16zM896 128h16v8h-16zM992 128h16v8h-16zM816 136h16v8h-16zM848 136h16v8h-16zM1040 136h48v8h-48zM1104 152h16v8h-16zM1200 192h16v8h-16zM656 208h16v8h-16zM640 240h16v8h-16zM640 296h16v8h-16zM672 384h16v8h-16zM1264 392h16v8h-16zM688 400h16v8h-16zM1264 400h16v8h-16zM720 424h16v8h-16zM1264 424h16v8h-16zM736 456h16v8h-16zM912 464h32v8h-32zM880 472h16v8h-16zM976 472h32v8h-32zM1072 472h32v8h-32zM752 480h32v8h-32zM720 488h32v8h-32zM720 496h32v8h-32zM720 504h32v8h-32zM736 512h16v8h-16z"/>
<path fill="#171717" d="M944 120h16v8h-16zM704 128h16v8h-16zM768 128h16v8h-16zM1024 136h16v8h-16zM1088 144h16v8h-16zM1104 160h16v8h-16zM1152 184h16v8h-16zM1232 200h16v8h-16zM640 248h16v8h-16zM640 288h16v8h-16zM656 320h16v8h-16zM672 344h16v8h-16zM672 352h16v8h-16zM672 360h16v8h-16zM672 368h16v8h-16zM672 376h16v8h-16zM1264 384h16v8h-16zM704 408h16v8h-16zM1264 408h16v8h-16zM720 416h16v8h-16zM1264 416h16v8h-16zM736 448h16v8h-16zM1248 448h16v8h-16zM896 464h16v8h-16zM752 472h16v8h-16zM1008 472h64v8h-64zM1104 472h16v8h-16zM1184 472h16v8h-16zM784 480h64v8h-64z"/>
<path fill="#181818" d="M912 128h16v8h-16zM976 128h16v8h-16zM800 136h16v8h-16zM864 136h16v8h-16zM1008 136h16v8h-16zM672 144h16v8h-16zM1072 144h16v8h-16zM1088 152h16v8h-16zM1120 176h16v8h-16zM656 216h16v8h-16zM1264 216h16v8h-16zM640 256h16v8h-16zM640 264h16v8h-16zM640 272h16v8h-16zM640 280h16v8h-16zM736 440h16v8h-16zM912 456h16v8h-16zM752 464h16v8h-16zM944 464h16v8h-16zM1216 464h16v8h-16zM768 472h16v8h-16zM864 472h16v8h-16zM1120 472h32v8h-32zM1168 472h16v8h-16z"/>
<path fill="#191919" d="M752 128h16v8h-16zM960 128h16v8h-16zM992 136h16v8h-16zM1056 144h16v8h-16zM1104 168h16v8h-16zM1248 208h16v8h-16zM672 336h16v8h-16zM688 392h16v8h-16zM704 400h16v8h-16zM720 408h16v8h-16zM736 424h16v8h-16zM736 432h16v8h-16zM896 456h16v8h-16zM1232 456h16v8h-16zM880 464h16v8h-16zM960 464h16v8h-16zM1152 472h16v8h-16z"/>
<path fill="#1a1a1a" d="M720 128h32v8h-32zM928 128h32v8h-32zM688 136h16v8h-16zM880 136h16v8h-16zM1040 144h16v8h-16zM672 152h16v8h-16zM1088 160h16v8h-16zM672 176h16v8h-16zM1136 184h16v8h-16zM1184 192h16v8h-16zM1264 376h16v8h-16zM736 416h16v8h-16zM896 448h16v8h-16zM752 456h16v8h-16zM880 456h16v8h-16zM928 456h16v8h-16zM1088 464h16v8h-16zM784 472h16v8h-16zM848 472h16v8h-16z"/>
<path fill="#1b1b1b" d="M784 136h16v8h-16zM976 136h16v8h-16zM1024 144h16v8h-16zM1072 152h16v8h-16zM672 160h16v8h-16zM672 168h16v8h-16zM672 184h16v8h-16zM672 192h16v8h-16zM656 312h16v8h-16zM688 384h16v8h-16zM736 408h16v8h-16zM1248 440h16v8h-16zM880 448h16v8h-16zM912 448h16v8h-16zM768 464h16v8h-16zM864 464h16v8h-16zM976 464h16v8h-16zM1056 464h32v8h-32zM1104 464h16v8h-16zM1200 464h16v8h-16zM800 472h16v8h-16zM832 472h16v8h-16z"/>
<path fill="#1c1c1c" d="M896 136h16v8h-16zM1008 144h16v8h-16zM1104 176h16v8h-16zM656 224h16v8h-16zM672 328h16v8h-16zM720 400h16v8h-16zM752 416h16v8h-16zM880 440h32v8h-32zM752 448h16v8h-16zM944 456h16v8h-16zM992 464h64v8h-64zM1120 464h16v8h-16zM816 472h16v8h-16z"/>
<path fill="#1d1d1d" d="M912 136h16v8h-16zM960 136h16v8h-16zM816 144h32v8h-32zM1056 152h16v8h-16zM1088 168h16v8h-16zM1168 192h16v8h-16zM672 200h16v8h-16zM1216 200h16v8h-16zM1264 368h16v8h-16zM688 376h16v8h-16zM704 392h16v8h-16zM752 408h16v8h-16zM752 424h16v8h-16zM752 432h16v8h-16zM752 440h16v8h-16zM912 440h16v8h-16zM928 448h16v8h-16zM864 456h16v8h-16zM1136 464h16v8h-16zM1184 464h16v8h-16z"/>
<path fill="#1e1e1e" d="M704 136h16v8h-16zM768 136h16v8h-16zM928 136h32v8h-32zM688 144h16v8h-16zM848 144h16v8h-16zM992 144h16v8h-16zM1040 152h16v8h-16zM1072 160h16v8h-16zM1120 184h16v8h-16zM736 400h16v8h-16zM880 432h32v8h-32zM1248 432h16v8h-16zM864 440h16v8h-16zM864 448h16v8h-16zM1232 448h16v8h-16zM768 456h16v8h-16zM960 456h16v8h-16zM1216 456h16v8h-16zM784 464h16v8h-16zM848 464h16v8h-16zM1152 464h32v8h-32z"/>
<path fill="#1f1f1f" d="M800 144h16v8h-16zM976 144h16v8h-16zM1264 224h16v8h-16zM656 232h16v8h-16zM656 304h16v8h-16zM688 352h16v8h-16zM688 360h16v8h-16zM688 368h16v8h-16zM768 416h16v8h-16zM864 432h16v8h-16zM1088 456h16v8h-16z"/>
<path fill="#202020" d="M864 144h16v8h-16zM1024 152h16v8h-16zM1152 192h16v8h-16zM672 208h16v8h-16zM688 344h16v8h-16zM704 384h16v8h-16zM720 392h16v8h-16zM752 400h16v8h-16zM768 408h16v8h-16zM768 424h16v8h-16zM912 432h16v8h-16zM928 440h16v8h-16zM768 448h16v8h-16zM944 448h16v8h-16zM848 456h16v8h-16zM976 456h16v8h-16zM1072 456h16v8h-16zM1104 456h16v8h-16zM800 464h48v8h-48z"/>
<path fill="#212121" d="M720 136h16v8h-16zM752 136h16v8h-16zM784 144h16v8h-16zM960 144h16v8h-16zM688 152h16v8h-16zM1056 160h16v8h-16zM1088 176h16v8h-16zM1232 208h16v8h-16zM1248 392h16v8h-16zM1248 400h16v8h-16zM864 424h32v8h-32zM1248 424h16v8h-16zM768 432h16v8h-16zM768 440h16v8h-16zM848 440h16v8h-16zM848 448h16v8h-16zM784 456h16v8h-16zM1056 456h16v8h-16zM1120 456h16v8h-16z"/>
<path fill="#222222" d="M736 136h16v8h-16zM880 144h16v8h-16zM1008 152h16v8h-16zM1072 168h16v8h-16zM1200 200h16v8h-16zM1248 216h16v8h-16zM656 240h16v8h-16zM656 296h16v8h-16zM672 320h16v8h-16zM1264 360h16v8h-16zM1248 384h16v8h-16zM736 392h16v8h-16zM768 400h16v8h-16zM1248 408h16v8h-16zM784 416h16v8h-16zM1248 416h16v8h-16zM896 424h16v8h-16zM848 432h16v8h-16zM832 456h16v8h-16zM992 456h16v8h-16zM1040 456h16v8h-16zM1136 456h16v8h-16zM1200 456h16v8h-16z"/>
<path fill="#232323" d="M944 144h16v8h-16zM992 152h16v8h-16zM688 160h16v8h-16zM688 168h16v8h-16zM688 176h16v8h-16zM1104 184h16v8h-16zM688 336h16v8h-16zM704 376h16v8h-16zM784 408h16v8h-16zM784 424h16v8h-16zM848 424h16v8h-16zM784 448h16v8h-16zM960 448h16v8h-16zM800 456h16v8h-16zM1008 456h32v8h-32z"/>
<path fill="#242424" d="M704 144h16v8h-16zM896 144h48v8h-48zM1040 160h16v8h-16zM688 184h16v8h-16zM1136 192h16v8h-16zM672 216h16v8h-16zM656 248h16v8h-16zM656 288h16v8h-16zM720 384h16v8h-16zM752 392h16v8h-16zM912 424h16v8h-16zM784 432h16v8h-16zM832 432h16v8h-16zM928 432h16v8h-16zM784 440h16v8h-16zM832 440h16v8h-16zM944 440h16v8h-16zM1232 440h16v8h-16zM832 448h16v8h-16zM816 456h16v8h-16zM1152 456h16v8h-16zM1184 456h16v8h-16z"/>
<path fill="#252525" d="M768 144h16v8h-16zM800 152h32v8h-32zM688 192h16v8h-16zM1264 232h16v8h-16zM656 256h16v8h-16zM656 280h16v8h-16zM704 368h16v8h-16zM1248 376h16v8h-16zM800 416h16v8h-16zM800 424h48v8h-48zM800 448h32v8h-32zM1088 448h16v8h-16zM1216 448h16v8h-16zM1168 456h16v8h-16z"/>
<path fill="#262626" d="M832 152h16v8h-16zM976 152h16v8h-16zM1056 168h16v8h-16zM656 264h16v8h-16zM656 272h16v8h-16zM736 384h16v8h-16zM768 392h16v8h-16zM784 400h16v8h-16zM864 416h32v8h-32zM800 432h32v8h-32zM800 440h32v8h-32zM976 448h16v8h-16zM1072 448h16v8h-16zM1104 448h16v8h-16z"/>
<path fill="#272727" d="M784 152h16v8h-16zM1024 160h16v8h-16zM1072 176h16v8h-16zM1184 200h16v8h-16zM672 312h16v8h-16zM688 328h16v8h-16zM1264 352h16v8h-16zM704 360h16v8h-16zM800 408h16v8h-16zM816 416h48v8h-48zM896 416h16v8h-16zM1056 448h16v8h-16z"/>
<path fill="#282828" d="M720 144h16v8h-16zM752 144h16v8h-16zM704 152h16v8h-16zM960 152h16v8h-16zM1088 184h16v8h-16zM1120 192h16v8h-16zM688 200h16v8h-16zM672 224h16v8h-16zM704 352h16v8h-16zM720 376h16v8h-16zM752 384h16v8h-16zM1120 448h16v8h-16z"/>
<path fill="#292929" d="M736 144h16v8h-16zM848 152h16v8h-16zM1008 160h16v8h-16zM816 408h16v8h-16zM928 424h16v8h-16zM1232 432h16v8h-16zM960 440h16v8h-16zM992 448h16v8h-16zM1040 448h16v8h-16z"/>
<path fill="#2a2a2a" d="M768 152h16v8h-16zM944 152h16v8h-16zM704 160h16v8h-16zM704 168h16v8h-16zM1168 200h16v8h-16zM1216 208h16v8h-16zM704 344h16v8h-16zM1248 368h16v8h-16zM784 392h16v8h-16zM800 400h16v8h-16zM912 416h16v8h-16zM944 432h16v8h-16zM1008 448h32v8h-32zM1136 448h16v8h-16zM1200 448h16v8h-16z"/>
<path fill="#2b2b2b" d="M864 152h16v8h-16zM1040 168h16v8h-16zM704 176h16v8h-16zM1264 240h16v8h-16zM1264 344h16v8h-16zM720 368h16v8h-16zM736 376h16v8h-16zM768 384h16v8h-16z"/>
<path fill="#2c2c2c" d="M720 152h16v8h-16zM928 152h16v8h-16zM800 160h16v8h-16zM992 160h16v8h-16zM704 184h16v8h-16zM688 208h16v8h-16zM1248 224h16v8h-16zM832 408h16v8h-16zM1216 440h16v8h-16zM1152 448h16v8h-16z"/>
<path fill="#2d2d2d" d="M736 152h32v8h-32zM880 152h16v8h-16zM784 160h16v8h-16zM816 160h16v8h-16zM1056 176h16v8h-16zM1104 192h16v8h-16zM672 232h16v8h-16zM672 304h16v8h-16zM704 336h16v8h-16zM1232 392h16v8h-16zM848 408h48v8h-48zM1232 424h16v8h-16zM976 440h16v8h-16zM1072 440h48v8h-48zM1184 448h16v8h-16z"/>
<path fill="#2e2e2e" d="M896 152h32v8h-32zM720 160h16v8h-16zM768 160h16v8h-16zM976 160h16v8h-16zM1152 200h16v8h-16zM1232 216h16v8h-16zM688 320h16v8h-16zM720 360h16v8h-16zM752 376h16v8h-16zM1232 384h16v8h-16zM816 400h16v8h-16zM1232 400h16v8h-16zM1232 416h16v8h-16zM1168 448h16v8h-16z"/>
<path fill="#2f2f2f" d="M1024 168h16v8h-16zM1072 184h16v8h-16zM704 192h16v8h-16zM1264 336h16v8h-16zM736 368h16v8h-16zM784 384h16v8h-16zM800 392h16v8h-16zM896 408h16v8h-16zM1232 408h16v8h-16zM928 416h16v8h-16zM944 424h16v8h-16zM960 432h16v8h-16zM1056 440h16v8h-16z"/>
<path fill="#303030" d="M752 160h16v8h-16zM832 160h16v8h-16zM720 168h16v8h-16zM688 216h16v8h-16zM1264 248h16v8h-16zM720 352h16v8h-16zM1248 360h16v8h-16zM992 440h16v8h-16zM1120 440h16v8h-16z"/>
<path fill="#313131" d="M736 160h16v8h-16zM960 160h16v8h-16zM784 168h16v8h-16zM720 176h16v8h-16zM1200 208h16v8h-16zM672 240h16v8h-16zM672 296h16v8h-16zM768 376h16v8h-16zM1040 440h16v8h-16z"/>
<path fill="#323232" d="M768 168h16v8h-16zM800 168h16v8h-16zM1136 200h16v8h-16zM1264 328h16v8h-16zM1232 376h16v8h-16zM832 400h16v8h-16zM912 408h16v8h-16zM1008 440h32v8h-32z"/>
<path fill="#333333" d="M736 168h32v8h-32zM1008 168h16v8h-16zM1040 176h16v8h-16zM1088 192h16v8h-16zM704 200h16v8h-16zM1264 256h16v8h-16zM736 360h16v8h-16zM752 368h16v8h-16zM1216 432h16v8h-16zM1136 440h16v8h-16zM1200 440h16v8h-16z"/>
<path fill="#343434" d="M848 160h16v8h-16zM944 160h16v8h-16zM720 184h16v8h-16zM672 248h16v8h-16zM672 288h16v8h-16zM1264 320h16v8h-16zM704 328h16v8h-16zM720 344h16v8h-16z"/>
<path fill="#353535" d="M816 168h16v8h-16zM736 176h16v8h-16zM1056 184h16v8h-16zM1248 232h16v8h-16zM784 376h16v8h-16zM800 384h16v8h-16zM816 392h16v8h-16zM848 400h16v8h-16zM976 432h16v8h-16zM1072 432h32v8h-32z"/>
<path fill="#363636" d="M992 168h16v8h-16zM752 176h32v8h-32zM1120 200h16v8h-16zM688 224h16v8h-16zM672 256h16v8h-16zM1264 264h16v8h-16zM672 280h16v8h-16zM688 312h16v8h-16zM1264 312h16v8h-16zM1248 352h16v8h-16zM864 400h16v8h-16zM944 416h16v8h-16zM960 424h16v8h-16zM1104 432h16v8h-16z"/>
<path fill="#373737" d="M864 160h16v8h-16zM928 160h16v8h-16zM784 176h16v8h-16zM720 192h16v8h-16zM1184 208h16v8h-16zM672 264h16v8h-16zM672 272h16v8h-16zM768 368h16v8h-16zM880 400h16v8h-16zM928 408h16v8h-16zM1056 432h16v8h-16zM1152 440h16v8h-16zM1184 440h16v8h-16z"/>
<path fill="#383838" d="M800 176h16v8h-16zM1024 176h16v8h-16zM736 184h16v8h-16zM704 208h16v8h-16zM1216 216h16v8h-16zM1264 272h16v8h-16zM1264 304h16v8h-16zM736 352h16v8h-16zM1232 368h16v8h-16zM1216 424h16v8h-16zM992 432h16v8h-16zM1168 440h16v8h-16z"/>
<path fill="#393939" d="M912 160h16v8h-16zM832 168h16v8h-16zM976 168h16v8h-16zM1072 192h16v8h-16zM1264 296h16v8h-16zM720 336h16v8h-16zM752 360h16v8h-16zM896 400h16v8h-16zM1040 432h16v8h-16zM1120 432h16v8h-16z"/>
<path fill="#3a3a3a" d="M880 160h32v8h-32zM1232 224h16v8h-16zM1264 280h16v8h-16zM1264 288h16v8h-16zM832 392h16v8h-16zM1216 392h16v8h-16z"/>
<path fill="#3b3b3b" d="M752 184h16v8h-16zM1104 200h16v8h-16zM1168 208h16v8h-16zM800 376h16v8h-16zM816 384h16v8h-16zM1216 384h16v8h-16zM912 400h16v8h-16zM1216 400h16v8h-16zM1216 416h16v8h-16zM1008 432h32v8h-32z"/>
<path fill="#3c3c3c" d="M816 176h16v8h-16zM768 184h32v8h-32zM720 200h16v8h-16zM688 232h16v8h-16zM704 320h16v8h-16zM784 368h16v8h-16zM1216 408h16v8h-16zM976 424h16v8h-16zM1088 424h16v8h-16zM1200 432h16v8h-16z"/>
<path fill="#3d3d3d" d="M960 168h16v8h-16zM1040 184h16v8h-16zM736 192h16v8h-16zM704 216h16v8h-16zM1248 240h16v8h-16zM688 304h16v8h-16zM736 344h16v8h-16zM1248 344h16v8h-16zM944 408h16v8h-16zM960 416h16v8h-16zM1072 424h16v8h-16zM1136 432h16v8h-16z"/>
<path fill="#3e3e3e" d="M848 168h16v8h-16zM1008 176h16v8h-16zM800 184h16v8h-16zM768 360h16v8h-16zM848 392h16v8h-16zM1104 424h16v8h-16z"/>
<path fill="#3f3f3f" d="M1152 208h16v8h-16zM752 352h16v8h-16zM1232 360h16v8h-16zM928 400h16v8h-16zM1056 424h16v8h-16z"/>
<path fill="#404040" d="M944 168h16v8h-16zM1056 192h16v8h-16zM1216 376h16v8h-16zM864 392h16v8h-16z"/>
<path fill="#414141" d="M832 176h16v8h-16zM752 192h16v8h-16zM1088 200h16v8h-16zM720 328h16v8h-16zM992 424h16v8h-16zM1152 432h16v8h-16zM1184 432h16v8h-16z"/>
<path fill="#424242" d="M992 176h16v8h-16zM816 184h16v8h-16zM768 192h16v8h-16zM720 208h16v8h-16zM1200 216h16v8h-16zM688 240h16v8h-16zM1248 336h16v8h-16zM800 368h16v8h-16zM816 376h16v8h-16zM832 384h16v8h-16zM880 392h16v8h-16zM1040 424h16v8h-16zM1120 424h16v8h-16z"/>
<path fill="#434343" d="M864 168h16v8h-16zM928 168h16v8h-16zM1024 184h16v8h-16zM784 192h16v8h-16zM736 200h16v8h-16zM1136 208h16v8h-16zM688 296h16v8h-16zM784 360h16v8h-16zM896 392h16v8h-16zM976 416h16v8h-16zM1088 416h16v8h-16zM1008 424h16v8h-16zM1200 424h16v8h-16zM1168 432h16v8h-16z"/>
<path fill="#444444" d="M1248 248h16v8h-16zM960 408h16v8h-16zM1072 416h16v8h-16zM1024 424h16v8h-16z"/>
<path fill="#454545" d="M912 168h16v8h-16zM800 192h16v8h-16zM704 224h16v8h-16zM736 336h16v8h-16zM912 392h16v8h-16zM944 400h16v8h-16zM1104 416h16v8h-16z"/>
<path fill="#464646" d="M880 168h32v8h-32zM976 176h16v8h-16zM1232 232h16v8h-16zM704 312h16v8h-16zM1248 328h16v8h-16zM752 344h16v8h-16zM768 352h16v8h-16zM1216 368h16v8h-16zM1200 392h16v8h-16zM1200 416h16v8h-16z"/>
<path fill="#474747" d="M848 176h16v8h-16zM1072 200h16v8h-16zM1120 208h16v8h-16zM688 248h16v8h-16zM1232 352h16v8h-16zM848 384h16v8h-16zM1200 400h16v8h-16zM1200 408h16v8h-16zM1056 416h16v8h-16zM1136 424h16v8h-16z"/>
<path fill="#484848" d="M832 184h16v8h-16zM1040 192h16v8h-16zM752 200h16v8h-16zM1216 224h16v8h-16zM688 288h16v8h-16zM816 368h16v8h-16zM832 376h16v8h-16zM1200 384h16v8h-16zM928 392h16v8h-16zM992 416h16v8h-16z"/>
<path fill="#494949" d="M960 176h16v8h-16zM816 192h16v8h-16zM1184 216h16v8h-16zM1248 256h16v8h-16zM1248 320h16v8h-16zM800 360h16v8h-16zM1088 408h16v8h-16zM1120 416h16v8h-16zM1184 424h16v8h-16z"/>
<path fill="#4a4a4a" d="M1008 184h16v8h-16zM720 216h16v8h-16zM864 384h16v8h-16zM960 400h16v8h-16zM976 408h16v8h-16zM1072 408h16v8h-16zM1040 416h16v8h-16zM1152 424h16v8h-16z"/>
<path fill="#4b4b4b" d="M768 200h16v8h-16zM736 208h16v8h-16zM688 256h16v8h-16zM688 280h16v8h-16zM720 320h16v8h-16zM1104 408h16v8h-16zM1008 416h32v8h-32z"/>
<path fill="#4c4c4c" d="M864 176h16v8h-16zM944 176h16v8h-16zM784 200h16v8h-16zM1104 208h16v8h-16zM704 232h16v8h-16zM688 264h16v8h-16zM688 272h16v8h-16zM1248 312h16v8h-16zM784 352h16v8h-16zM1200 376h16v8h-16zM880 384h16v8h-16zM944 392h16v8h-16zM1168 424h16v8h-16z"/>
<path fill="#4d4d4d" d="M832 192h16v8h-16zM896 384h16v8h-16zM1056 408h16v8h-16zM1136 416h16v8h-16z"/>
<path fill="#4e4e4e" d="M848 184h16v8h-16zM800 200h16v8h-16zM1056 200h16v8h-16zM1168 216h16v8h-16zM1248 264h16v8h-16zM1248 304h16v8h-16zM736 328h16v8h-16zM832 368h16v8h-16zM848 376h16v8h-16zM1120 408h16v8h-16zM1184 416h16v8h-16z"/>
<path fill="#4f4f4f" d="M928 176h16v8h-16zM992 184h16v8h-16zM704 304h16v8h-16zM768 344h16v8h-16zM1232 344h16v8h-16zM816 360h16v8h-16zM1216 360h16v8h-16zM912 384h16v8h-16zM1088 400h16v8h-16zM992 408h16v8h-16z"/>
<path fill="#505050" d="M880 176h16v8h-16zM912 176h16v8h-16zM1024 192h16v8h-16zM816 200h16v8h-16zM1248 272h16v8h-16zM1248 296h16v8h-16zM752 336h16v8h-16zM1184 392h16v8h-16zM976 400h16v8h-16zM1072 400h16v8h-16zM1104 400h16v8h-16zM1184 400h16v8h-16zM1040 408h16v8h-16zM1184 408h16v8h-16z"/>
<path fill="#515151" d="M896 176h16v8h-16zM752 208h16v8h-16zM1232 240h16v8h-16zM928 384h16v8h-16zM960 392h16v8h-16zM1152 416h16v8h-16z"/>
<path fill="#525252" d="M1088 208h16v8h-16zM1152 216h16v8h-16zM720 224h16v8h-16zM1248 280h16v8h-16zM1248 288h16v8h-16zM800 352h16v8h-16zM864 376h16v8h-16zM1184 384h16v8h-16zM1056 400h16v8h-16zM1120 400h16v8h-16zM1008 408h32v8h-32zM1136 408h16v8h-16zM1168 416h16v8h-16z"/>
<path fill="#535353" d="M864 184h16v8h-16zM848 192h16v8h-16zM832 200h16v8h-16zM1200 224h16v8h-16zM944 384h16v8h-16z"/>
<path fill="#545454" d="M976 184h16v8h-16zM768 208h16v8h-16zM736 216h16v8h-16zM704 240h16v8h-16zM848 368h16v8h-16zM1200 368h16v8h-16zM880 376h16v8h-16zM992 400h16v8h-16zM1152 408h32v8h-32z"/>
<path fill="#555555" d="M832 360h16v8h-16zM896 376h16v8h-16zM976 392h16v8h-16zM1040 400h16v8h-16zM1136 400h16v8h-16zM1168 400h16v8h-16z"/>
<path fill="#565656" d="M784 208h16v8h-16zM1136 216h16v8h-16zM1216 232h16v8h-16zM720 312h16v8h-16zM1232 336h16v8h-16zM784 344h16v8h-16zM912 376h16v8h-16zM960 384h16v8h-16zM1072 392h48v8h-48zM1168 392h16v8h-16zM1008 400h16v8h-16zM1152 400h16v8h-16z"/>
<path fill="#575757" d="M880 184h16v8h-16zM960 184h16v8h-16zM848 200h16v8h-16zM1040 200h16v8h-16zM800 208h16v8h-16zM704 296h16v8h-16zM1184 376h16v8h-16zM1056 392h16v8h-16zM1024 400h16v8h-16z"/>
<path fill="#585858" d="M864 192h16v8h-16zM1008 192h16v8h-16zM816 208h16v8h-16zM1072 208h16v8h-16zM816 352h16v8h-16zM1216 352h16v8h-16zM864 368h16v8h-16zM928 376h16v8h-16zM992 392h16v8h-16zM1120 392h16v8h-16z"/>
<path fill="#595959" d="M896 184h16v8h-16zM944 184h16v8h-16zM944 376h16v8h-16zM976 384h16v8h-16zM1168 384h16v8h-16zM1040 392h16v8h-16zM1136 392h32v8h-32z"/>
<path fill="#5a5a5a" d="M912 184h32v8h-32zM832 208h16v8h-16zM1120 216h16v8h-16zM1232 248h16v8h-16zM736 320h16v8h-16zM768 336h16v8h-16zM848 360h16v8h-16zM880 368h16v8h-16zM1008 392h32v8h-32z"/>
<path fill="#5b5b5b" d="M752 216h16v8h-16zM704 248h16v8h-16zM752 328h16v8h-16zM1232 328h16v8h-16zM896 368h16v8h-16zM960 376h16v8h-16zM992 384h16v8h-16z"/>
<path fill="#5c5c5c" d="M880 192h16v8h-16zM864 200h16v8h-16zM1184 224h16v8h-16zM720 232h16v8h-16zM912 368h16v8h-16zM976 376h16v8h-16zM1008 384h16v8h-16zM1056 384h16v8h-16z"/>
<path fill="#5d5d5d" d="M848 208h16v8h-16zM800 344h16v8h-16zM832 352h16v8h-16zM864 360h16v8h-16zM1200 360h16v8h-16zM928 368h16v8h-16zM992 376h16v8h-16zM1024 384h32v8h-32zM1072 384h16v8h-16z"/>
<path fill="#5e5e5e" d="M992 192h16v8h-16zM736 224h16v8h-16zM704 288h16v8h-16zM944 368h16v8h-16zM1008 376h16v8h-16zM1088 384h16v8h-16zM1152 384h16v8h-16z"/>
<path fill="#5f5f5f" d="M1024 200h16v8h-16zM1056 208h16v8h-16zM1104 216h16v8h-16zM1232 320h16v8h-16zM880 360h16v8h-16zM960 368h32v8h-32zM1024 376h16v8h-16zM1104 384h16v8h-16z"/>
<path fill="#606060" d="M896 192h16v8h-16zM768 216h16v8h-16zM896 360h16v8h-16zM992 368h32v8h-32zM1184 368h16v8h-16zM1040 376h16v8h-16zM1168 376h16v8h-16zM1120 384h32v8h-32z"/>
<path fill="#616161" d="M880 200h16v8h-16zM864 208h16v8h-16zM1168 224h16v8h-16zM704 256h16v8h-16zM1232 256h16v8h-16zM1216 344h16v8h-16zM848 352h16v8h-16zM912 360h16v8h-16zM1024 368h16v8h-16z"/>
<path fill="#626262" d="M912 192h16v8h-16zM784 216h16v8h-16zM704 280h16v8h-16zM720 304h16v8h-16zM928 360h32v8h-32zM1056 376h16v8h-16z"/>
<path fill="#636363" d="M976 192h16v8h-16zM800 216h48v8h-48zM1216 240h16v8h-16zM1232 312h16v8h-16zM784 336h16v8h-16zM816 344h16v8h-16zM864 352h16v8h-16zM960 360h64v8h-64z"/>
<path fill="#646464" d="M928 192h16v8h-16zM1088 216h16v8h-16zM1200 232h16v8h-16zM704 264h16v8h-16zM704 272h16v8h-16zM1024 360h16v8h-16zM1040 368h16v8h-16zM1072 376h16v8h-16z"/>
<path fill="#656565" d="M944 192h32v8h-32zM896 200h16v8h-16zM848 216h16v8h-16zM1152 224h16v8h-16zM880 352h16v8h-16z"/>
<path fill="#666666" d="M880 208h16v8h-16zM720 240h16v8h-16zM1232 304h16v8h-16zM896 352h16v8h-16zM1152 376h16v8h-16z"/>
<path fill="#676767" d="M1008 200h16v8h-16zM1040 208h16v8h-16zM752 224h16v8h-16zM1232 264h16v8h-16zM736 312h16v8h-16zM768 328h16v8h-16zM832 344h16v8h-16zM912 352h32v8h-32zM1200 352h16v8h-16zM1040 360h16v8h-16zM1056 368h16v8h-16zM1088 376h16v8h-16z"/>
<path fill="#686868" d="M864 216h16v8h-16zM752 320h16v8h-16zM1216 336h16v8h-16zM944 352h80v8h-80z"/>
<path fill="#696969" d="M1136 224h16v8h-16zM1232 296h16v8h-16zM1024 352h16v8h-16zM1168 368h16v8h-16zM1104 376h16v8h-16zM1136 376h16v8h-16z"/>
<path fill="#6a6a6a" d="M912 200h16v8h-16zM1072 216h16v8h-16zM736 232h16v8h-16zM1232 272h16v8h-16zM800 336h16v8h-16zM1184 360h16v8h-16zM1120 376h16v8h-16z"/>
<path fill="#6b6b6b" d="M848 344h16v8h-16zM1072 368h16v8h-16z"/>
<path fill="#6c6c6c" d="M896 208h16v8h-16zM1120 224h16v8h-16zM1232 280h16v8h-16zM1232 288h16v8h-16zM720 296h16v8h-16zM1040 352h16v8h-16zM1056 360h16v8h-16z"/>
<path fill="#6d6d6d" d="M880 216h16v8h-16zM768 224h16v8h-16zM864 344h16v8h-16z"/>
<path fill="#6e6e6e" d="M992 200h16v8h-16zM1184 232h16v8h-16zM1216 248h16v8h-16zM1216 328h16v8h-16zM880 344h16v8h-16z"/>
<path fill="#6f6f6f" d="M928 200h16v8h-16zM896 344h32v8h-32zM992 344h48v8h-48z"/>
<path fill="#707070" d="M1024 208h16v8h-16zM832 224h32v8h-32zM1104 224h16v8h-16zM720 248h16v8h-16zM816 336h16v8h-16zM928 344h16v8h-16zM976 344h16v8h-16zM1040 344h16v8h-16zM1200 344h16v8h-16zM1056 352h16v8h-16zM1088 368h16v8h-16zM1152 368h16v8h-16z"/>
<path fill="#717171" d="M1056 216h16v8h-16zM784 224h48v8h-48zM784 328h16v8h-16zM944 344h32v8h-32z"/>
<path fill="#727272" d="M864 224h16v8h-16zM1072 360h16v8h-16z"/>
<path fill="#737373" d="M944 200h16v8h-16zM976 200h16v8h-16zM1200 240h16v8h-16zM1216 320h16v8h-16zM1184 352h16v8h-16zM1168 360h16v8h-16zM1104 368h16v8h-16z"/>
<path fill="#747474" d="M960 200h16v8h-16zM912 208h16v8h-16zM1168 232h16v8h-16zM736 304h16v8h-16zM1056 344h16v8h-16zM1136 368h16v8h-16z"/>
<path fill="#757575" d="M752 232h16v8h-16zM720 288h16v8h-16zM768 320h16v8h-16zM832 336h16v8h-16zM1120 368h16v8h-16z"/>
<path fill="#767676" d="M896 216h16v8h-16zM1088 224h16v8h-16zM1040 336h16v8h-16zM1072 352h16v8h-16z"/>
<path fill="#777777" d="M1152 232h16v8h-16zM736 240h16v8h-16zM752 312h16v8h-16zM1024 336h16v8h-16zM1200 336h16v8h-16z"/>
<path fill="#787878" d="M720 256h16v8h-16zM1216 256h16v8h-16zM1216 312h16v8h-16zM848 336h16v8h-16zM1008 336h16v8h-16zM1056 336h16v8h-16zM1088 360h16v8h-16z"/>
<path fill="#797979" d="M1008 208h16v8h-16zM880 224h16v8h-16zM800 328h16v8h-16zM864 336h16v8h-16zM1072 344h16v8h-16z"/>
<path fill="#7a7a7a" d="M1040 216h16v8h-16zM1136 232h16v8h-16zM880 336h16v8h-16zM1152 360h16v8h-16z"/>
<path fill="#7b7b7b" d="M928 208h16v8h-16zM720 280h16v8h-16zM1056 328h16v8h-16zM896 336h16v8h-16zM992 336h16v8h-16zM1072 336h16v8h-16zM1184 344h16v8h-16z"/>
<path fill="#7c7c7c" d="M1072 224h16v8h-16zM1120 232h16v8h-16zM720 264h16v8h-16zM1216 304h16v8h-16zM1072 328h16v8h-16zM912 336h16v8h-16zM1168 352h16v8h-16zM1104 360h16v8h-16z"/>
<path fill="#7d7d7d" d="M768 232h16v8h-16zM720 272h16v8h-16zM1040 328h16v8h-16zM1200 328h16v8h-16zM928 336h16v8h-16zM976 336h16v8h-16zM1088 352h16v8h-16z"/>
<path fill="#7e7e7e" d="M848 232h16v8h-16zM1184 240h16v8h-16zM1216 264h16v8h-16zM1072 320h16v8h-16zM944 336h32v8h-32zM1136 360h16v8h-16z"/>
<path fill="#7f7f7f" d="M832 232h16v8h-16zM1104 232h16v8h-16zM1088 312h16v8h-16zM1088 320h16v8h-16zM1088 328h16v8h-16zM1088 344h16v8h-16zM1120 360h16v8h-16z"/>
<path fill="#808080" d="M992 208h16v8h-16zM912 216h16v8h-16zM864 232h16v8h-16zM1200 248h16v8h-16zM1072 312h16v8h-16zM784 320h16v8h-16zM1056 320h16v8h-16zM816 328h16v8h-16zM1024 328h16v8h-16zM1088 336h16v8h-16z"/>
<path fill="#818181" d="M944 208h16v8h-16zM784 232h16v8h-16zM816 232h16v8h-16zM736 296h16v8h-16zM1216 296h16v8h-16zM1088 304h16v8h-16z"/>
<path fill="#828282" d="M800 232h16v8h-16zM1072 304h16v8h-16zM1104 320h16v8h-16zM1200 320h16v8h-16zM1184 336h16v8h-16zM1104 352h16v8h-16zM1152 352h16v8h-16z"/>
<path fill="#838383" d="M1024 216h16v8h-16zM896 224h16v8h-16zM1056 224h16v8h-16zM736 248h16v8h-16zM1216 272h16v8h-16zM1088 296h16v8h-16zM1104 312h16v8h-16zM1104 328h16v8h-16zM1168 344h16v8h-16z"/>
<path fill="#848484" d="M976 208h16v8h-16zM1088 232h16v8h-16zM752 240h16v8h-16zM1168 240h16v8h-16zM1216 288h16v8h-16zM1104 304h16v8h-16zM1056 312h16v8h-16zM1040 320h16v8h-16zM832 328h16v8h-16z"/>
<path fill="#858585" d="M960 208h16v8h-16zM1216 280h16v8h-16zM1072 296h16v8h-16zM768 312h16v8h-16zM1008 328h16v8h-16zM1104 336h16v8h-16zM1104 344h16v8h-16zM1120 352h32v8h-32z"/>
<path fill="#868686" d="M1088 288h16v8h-16zM752 304h16v8h-16z"/>
<path fill="#878787" d="M880 232h16v8h-16zM1152 240h16v8h-16zM1104 296h16v8h-16zM1120 320h16v8h-16zM848 328h16v8h-16zM1184 328h16v8h-16z"/>
<path fill="#888888" d="M1120 240h32v8h-32zM1072 288h16v8h-16zM1200 312h16v8h-16zM1120 328h16v8h-16zM1168 336h16v8h-16zM1120 344h16v8h-16zM1152 344h16v8h-16z"/>
<path fill="#898989" d="M1056 304h16v8h-16zM1120 312h16v8h-16zM800 320h16v8h-16zM864 328h16v8h-16zM992 328h16v8h-16zM1120 336h16v8h-16z"/>
<path fill="#8a8a8a" d="M928 216h16v8h-16zM1072 232h16v8h-16zM1104 240h16v8h-16zM1200 256h16v8h-16zM1088 280h16v8h-16zM880 328h16v8h-16zM1136 344h16v8h-16z"/>
<path fill="#8b8b8b" d="M1008 216h16v8h-16zM1040 224h16v8h-16zM1104 288h16v8h-16zM1120 304h16v8h-16zM1024 320h16v8h-16zM896 328h16v8h-16zM1136 336h32v8h-32z"/>
<path fill="#8c8c8c" d="M1184 248h16v8h-16zM1072 280h16v8h-16zM736 288h16v8h-16zM1040 312h16v8h-16zM1184 320h16v8h-16zM1136 328h16v8h-16zM1168 328h16v8h-16z"/>
<path fill="#8d8d8d" d="M1088 240h16v8h-16zM736 256h16v8h-16zM1088 272h16v8h-16zM1056 296h16v8h-16zM1136 320h16v8h-16zM912 328h16v8h-16zM976 328h16v8h-16z"/>
<path fill="#8e8e8e" d="M768 240h16v8h-16zM848 240h16v8h-16zM1104 280h16v8h-16zM1200 304h16v8h-16zM1152 328h16v8h-16z"/>
<path fill="#8f8f8f" d="M912 224h16v8h-16zM1120 296h16v8h-16zM1136 312h16v8h-16zM928 328h16v8h-16zM960 328h16v8h-16z"/>
<path fill="#909090" d="M832 240h16v8h-16zM864 240h16v8h-16zM1104 248h16v8h-16zM1088 264h16v8h-16zM1072 272h16v8h-16zM816 320h16v8h-16zM1152 320h16v8h-16zM944 328h16v8h-16z"/>
<path fill="#919191" d="M1056 232h16v8h-16zM1120 248h16v8h-16zM1104 272h16v8h-16zM1056 288h16v8h-16zM784 312h16v8h-16zM1168 320h16v8h-16z"/>
<path fill="#929292" d="M944 216h16v8h-16zM1088 248h16v8h-16zM1168 248h16v8h-16zM1088 256h16v8h-16zM1200 264h16v8h-16zM1184 312h16v8h-16z"/>
<path fill="#939393" d="M992 216h16v8h-16zM896 232h16v8h-16zM816 240h16v8h-16zM1072 240h16v8h-16zM752 248h16v8h-16zM1136 248h16v8h-16zM1104 256h16v8h-16zM1104 264h16v8h-16zM736 280h16v8h-16zM1120 288h16v8h-16zM1200 296h16v8h-16zM1136 304h16v8h-16zM1008 320h16v8h-16z"/>
<path fill="#949494" d="M784 240h16v8h-16zM1152 248h16v8h-16zM736 264h16v8h-16zM1072 264h16v8h-16zM1040 304h16v8h-16zM1152 312h16v8h-16z"/>
<path fill="#959595" d="M1024 224h16v8h-16zM800 240h16v8h-16zM1056 280h16v8h-16zM752 296h16v8h-16zM768 304h16v8h-16zM832 320h16v8h-16z"/>
<path fill="#969696" d="M1072 256h16v8h-16zM1120 256h16v8h-16zM736 272h16v8h-16zM1168 312h16v8h-16z"/>
<path fill="#979797" d="M960 216h32v8h-32zM1072 248h16v8h-16zM1184 256h16v8h-16zM1200 272h16v8h-16zM1120 280h16v8h-16zM1200 288h16v8h-16zM1024 312h16v8h-16z"/>
<path fill="#989898" d="M880 240h16v8h-16zM1136 296h16v8h-16zM848 320h16v8h-16z"/>
<path fill="#999999" d="M1120 264h16v8h-16zM1056 272h16v8h-16zM1120 272h16v8h-16zM1200 280h16v8h-16zM1184 304h16v8h-16z"/>
<path fill="#9a9a9a" d="M1040 296h16v8h-16zM1152 304h16v8h-16zM864 320h16v8h-16z"/>
<path fill="#9b9b9b" d="M1040 232h16v8h-16zM1056 240h16v8h-16zM1136 256h16v8h-16zM800 312h16v8h-16zM880 320h16v8h-16zM992 320h16v8h-16z"/>
<path fill="#9c9c9c" d="M928 224h16v8h-16zM1168 304h16v8h-16z"/>
<path fill="#9d9d9d" d="M1168 256h16v8h-16zM1056 264h16v8h-16zM1136 288h16v8h-16zM896 320h16v8h-16z"/>
<path fill="#9e9e9e" d="M1008 224h16v8h-16zM1152 256h16v8h-16z"/>
<path fill="#9f9f9f" d="M768 248h16v8h-16zM848 248h16v8h-16zM1056 248h16v8h-16zM1184 264h16v8h-16zM1184 296h16v8h-16z"/>
<path fill="#a0a0a0" d="M752 256h16v8h-16zM1056 256h16v8h-16zM1136 264h16v8h-16zM1040 288h16v8h-16zM1152 296h16v8h-16zM912 320h16v8h-16zM976 320h16v8h-16z"/>
<path fill="#a1a1a1" d="M912 232h16v8h-16zM864 248h16v8h-16zM1136 280h16v8h-16zM752 288h16v8h-16zM816 312h16v8h-16z"/>
<path fill="#a2a2a2" d="M832 248h16v8h-16zM1136 272h16v8h-16zM784 304h16v8h-16zM1024 304h16v8h-16zM1008 312h16v8h-16z"/>
<path fill="#a3a3a3" d="M1168 296h16v8h-16zM928 320h16v8h-16z"/>
<path fill="#a4a4a4" d="M1184 272h16v8h-16zM1184 288h16v8h-16zM944 320h32v8h-32z"/>
<path fill="#a5a5a5" d="M1024 232h16v8h-16zM896 240h16v8h-16zM1040 240h16v8h-16zM1152 264h32v8h-32zM1040 280h16v8h-16zM1152 288h16v8h-16zM768 296h16v8h-16zM832 312h16v8h-16z"/>
<path fill="#a6a6a6" d="M944 224h16v8h-16zM784 248h16v8h-16zM816 248h16v8h-16zM1184 280h16v8h-16z"/>
<path fill="#a7a7a7" d="M992 224h16v8h-16z"/>
<path fill="#a8a8a8" d="M800 248h16v8h-16zM752 264h16v8h-16zM1152 272h16v8h-16zM1152 280h16v8h-16zM1168 288h16v8h-16zM848 312h16v8h-16z"/>
<path fill="#a9a9a9" d="M880 248h16v8h-16zM1040 272h16v8h-16zM752 280h16v8h-16z"/>
<path fill="#aaaaaa" d="M1168 272h16v8h-16zM864 312h16v8h-16z"/>
<path fill="#ababab" d="M960 224h32v8h-32zM1168 280h16v8h-16zM1024 296h16v8h-16zM800 304h16v8h-16z"/>
<path fill="#acacac" d="M1040 248h16v8h-16zM1040 264h16v8h-16zM752 272h16v8h-16zM880 312h16v8h-16z"/>
<path fill="#adadad" d="M1040 256h16v8h-16zM992 312h16v8h-16z"/>
<path fill="#aeaeae" d="M768 256h16v8h-16z"/>
<path fill="#afafaf" d="M848 256h16v8h-16zM896 312h16v8h-16z"/>
<path fill="#b0b0b0" d="M928 232h16v8h-16zM1008 232h16v8h-16zM864 256h16v8h-16zM1008 304h16v8h-16z"/>
<path fill="#b1b1b1" d="M816 304h16v8h-16z"/>
<path fill="#b2b2b2" d="M1024 240h16v8h-16zM832 256h16v8h-16zM768 288h16v8h-16zM784 296h16v8h-16z"/>
<path fill="#b3b3b3" d="M1024 288h16v8h-16zM912 312h16v8h-16z"/>
<path fill="#b4b4b4" d="M976 312h16v8h-16z"/>
<path fill="#b5b5b5" d="M912 240h16v8h-16zM832 304h16v8h-16z"/>
<path fill="#b6b6b6" d="M896 248h16v8h-16zM784 256h16v8h-16zM848 304h16v8h-16z"/>
<path fill="#b7b7b7" d="M816 256h16v8h-16zM928 312h16v8h-16z"/>
<path fill="#b8b8b8" d="M880 256h16v8h-16zM768 264h16v8h-16zM864 304h16v8h-16z"/>
<path fill="#b9b9b9" d="M800 256h16v8h-16zM960 312h16v8h-16z"/>
<path fill="#bababa" d="M992 232h16v8h-16zM1024 248h16v8h-16zM768 280h16v8h-16zM1024 280h16v8h-16zM880 304h16v8h-16zM944 312h16v8h-16z"/>
<path fill="#bbbbbb" d="M944 232h16v8h-16zM800 296h16v8h-16z"/>
<path fill="#bcbcbc" d="M848 264h32v8h-32z"/>
<path fill="#bdbdbd" d="M768 272h16v8h-16zM1008 296h16v8h-16z"/>
<path fill="#bebebe" d="M1024 272h16v8h-16zM992 304h16v8h-16z"/>
<path fill="#bfbfbf" d="M1008 240h16v8h-16zM1024 256h16v8h-16zM784 288h16v8h-16zM816 296h16v8h-16zM896 304h16v8h-16z"/>
<path fill="#c0c0c0" d="M960 232h32v8h-32zM832 264h16v8h-16zM1024 264h16v8h-16z"/>
<path fill="#c1c1c1" d="M832 296h32v8h-32z"/>
<path fill="#c2c2c2" d="M784 264h16v8h-16zM864 296h16v8h-16z"/>
<path fill="#c3c3c3" d="M880 264h16v8h-16z"/>
<path fill="#c4c4c4" d="M928 240h16v8h-16zM816 264h16v8h-16zM912 304h16v8h-16z"/>
<path fill="#c5c5c5" d="M896 256h16v8h-16zM848 272h32v8h-32zM880 296h16v8h-16z"/>
<path fill="#c6c6c6" d="M800 264h16v8h-16zM784 280h16v8h-16zM800 288h16v8h-16z"/>
<path fill="#c7c7c7" d="M912 248h16v8h-16zM848 288h32v8h-32zM1008 288h16v8h-16z"/>
<path fill="#c8c8c8" d="M784 272h16v8h-16zM832 272h16v8h-16zM864 280h16v8h-16zM976 304h16v8h-16z"/>
<path fill="#c9c9c9" d="M848 280h16v8h-16zM816 288h32v8h-32z"/>
<path fill="#cacaca" d="M1008 248h16v8h-16zM880 272h16v8h-16zM896 296h16v8h-16zM928 304h16v8h-16z"/>
<path fill="#cbcbcb" d="M992 240h16v8h-16zM832 280h16v8h-16zM880 288h16v8h-16z"/>
<path fill="#cccccc" d="M800 272h32v8h-32zM880 280h16v8h-16z"/>
<path fill="#cdcdcd" d="M800 280h16v8h-16zM992 296h16v8h-16zM960 304h16v8h-16z"/>
<path fill="#cecece" d="M816 280h16v8h-16zM944 304h16v8h-16z"/>
<path fill="#cfcfcf" d="M896 264h16v8h-16zM1008 280h16v8h-16z"/>
<path fill="#d0d0d0" d="M944 240h16v8h-16z"/>
<path fill="#d1d1d1" d="M1008 256h16v8h-16z"/>
<path fill="#d2d2d2" d="M896 288h16v8h-16zM912 296h16v8h-16z"/>
<path fill="#d3d3d3" d="M976 240h16v8h-16zM1008 272h16v8h-16z"/>
<path fill="#d4d4d4" d="M1008 264h16v8h-16zM896 272h16v8h-16z"/>
<path fill="#d5d5d5" d="M960 240h16v8h-16zM912 256h16v8h-16zM896 280h16v8h-16z"/>
<path fill="#d7d7d7" d="M928 248h16v8h-16z"/>
<path fill="#d9d9d9" d="M992 248h16v8h-16zM976 296h16v8h-16z"/>
<path fill="#dadada" d="M992 288h16v8h-16zM928 296h16v8h-16z"/>
<path fill="#dbdbdb" d="M912 288h16v8h-16z"/>
<path fill="#dedede" d="M912 264h16v8h-16z"/>
<path fill="#dfdfdf" d="M944 296h32v8h-32z"/>
<path fill="#e1e1e1" d="M912 280h16v8h-16z"/>
<path fill="#e2e2e2" d="M944 248h16v8h-16zM992 256h16v8h-16zM912 272h16v8h-16zM992 280h16v8h-16z"/>
<path fill="#e3e3e3" d="M976 248h16v8h-16z"/>
<path fill="#e5e5e5" d="M928 256h16v8h-16zM928 288h16v8h-16z"/>
<path fill="#e6e6e6" d="M960 248h16v8h-16z"/>
<path fill="#e7e7e7" d="M992 264h16v8h-16zM992 272h16v8h-16zM976 288h16v8h-16z"/>
<path fill="#ececec" d="M944 288h16v8h-16z"/>
<path fill="#ededed" d="M928 280h16v8h-16zM960 288h16v8h-16z"/>
<path fill="#eeeeee" d="M928 264h16v8h-16z"/>
<path fill="#efefef" d="M976 256h16v8h-16z"/>
<path fill="#f0f0f0" d="M944 256h16v8h-16zM928 272h16v8h-16z"/>
<path fill="#f1f1f1" d="M976 280h16v8h-16z"/>
<path fill="#f4f4f4" d="M960 256h16v8h-16z"/>
<path fill="#f5f5f5" d="M976 264h16v8h-16zM976 272h16v8h-16zM944 280h16v8h-16z"/>
<path fill="#f7f7f7" d="M960 280h16v8h-16z"/>
<path fill="#f8f8f8" d="M944 264h16v8h-16z"/>
<path fill="#fafafa" d="M944 272h16v8h-16z"/>
<path fill="#fbfbfb" d="M960 264h16v8h-16z"/>
<path fill="#fcfcfc" d="M960 272h16v8h-16z"/>
</g>
<path d="M851 40v550h1v-550zM1048 40v550h1v-550z" fill="#fff"/>
</g>
<g clip-path="url(#c2)">
<line x1="699.76" y1="381.41" x2="1232.19" y2="381.41" stroke="#CD2626" stroke-width="1.5" stroke-dasharray="6 6" stroke-linecap="round"/>
<line x1="952.3" y1="580.24" x2="952.3" y2="47.81" stroke="#006400" stroke-width="1.5" stroke-dasharray="6 6" stroke-linecap="round"/>
<line x1="979.3" y1="580.24" x2="979.3" y2="47.81" stroke="#006400" stroke-width="1.5" stroke-dasharray="6 6" stroke-linecap="round"/>
</g>
<rect x="699.76" y="47.81" width="532.43" height="532.43" fill="none" stroke="#000" stroke-width="0.75"/>
<path d="M749.5 580.24H1181.5M749.5 580.24v5.98M857.5 580.24v5.98M965.5 580.24v5.98M1073.5 580.24v5.98M1181.5 580.24v5.98M699.76 484.44V116.48M699.76 484.44h-5.98M699.76 361.78h-5.98M699.76 239.13h-5.98M699.76 116.48h-5.98" fill="none" stroke="#000" stroke-width="0.75"/>
<g class="tk">
<text x="749.5" y="602">-400</text>
<text x="857.5" y="602">-200</text>
<text x="965.5" y="602">0</text>
<text x="1073.5" y="602">200</text>
<text x="1181.5" y="602">400</text>
<text transform="translate(684.5 484.44) rotate(-90)">80</text>
<text transform="translate(684.5 361.78) rotate(-90)">85</text>
<text transform="translate(684.5 239.13) rotate(-90)">90</text>
<text transform="translate(684.5 116.48) rotate(-90)">95</text>
</g>
<text class="lab" x="965.98" y="626.2">Distance to peak summit</text>
<text class="lab" transform="translate(661.4 314.02) rotate(-90)">Motif score</text>
<text class="ttl" x="965.98" y="31.6">Density heat map for the top hits</text>
</g>
<g id="p3">
<path d="M79.48 1200.45L80.71 1200.43L81.95 1200.41L83.18 1200.39L84.42 1200.36L85.65 1200.32L86.89 1200.28L88.12 1200.23L89.37 1200.18L90.59 1200.11L91.84 1200.04L93.06 1199.96L94.31 1199.86L95.54 1199.75L96.78 1199.63L98.01 1199.49L99.25 1199.34L100.48 1199.17L101.72 1198.99L102.95 1198.8L104.19 1198.59L105.42 1198.37L106.67 1198.13L107.89 1197.88L109.14 1197.62L110.36 1197.34L111.61 1197.06L112.84 1196.78L114.08 1196.5L115.31 1196.21L116.55 1195.93L117.78 1195.65L119.02 1195.38L120.25 1195.13L121.49 1194.89L122.72 1194.66L123.97 1194.46L125.19 1194.27L126.44 1194.1L127.66 1193.96L128.91 1193.84L130.14 1193.75L131.38 1193.67L132.61 1193.61L133.85 1193.57L135.08 1193.54L136.32 1193.52L137.55 1193.51L138.79 1193.5L140.02 1193.49L141.27 1193.48L142.49 1193.45L143.74 1193.4L144.96 1193.34L146.21 1193.25L147.44 1193.14L148.68 1192.99L149.91 1192.81L151.13 1192.59L152.38 1192.33L153.61 1192.04L154.85 1191.7L156.08 1191.33L157.32 1190.91L158.55 1190.46L159.79 1189.96L161.02 1189.43L162.26 1188.86L163.49 1188.26L164.74 1187.62L165.96 1186.95L167.21 1186.23L168.43 1185.49L169.68 1184.7L170.91 1183.88L172.15 1183.02L173.38 1182.12L174.62 1181.16L175.85 1180.17L177.09 1179.11L178.32 1178L179.57 1176.83L180.79 1175.61L182.04 1174.31L183.26 1172.95L184.51 1171.52L185.74 1170.02L186.98 1168.45L188.21 1166.82L189.45 1165.13L190.68 1163.37L191.92 1161.56L193.15 1159.71L194.39 1157.81L195.62 1155.87L196.87 1153.91L198.09 1151.92L199.34 1149.91L200.56 1147.9L201.81 1145.88L203.04 1143.86L204.28 1141.84L205.51 1139.81L206.75 1137.79L207.98 1135.77L209.22 1133.74L210.45 1131.7L211.69 1129.64L212.92 1127.56L214.17 1125.44L215.39 1123.28L216.64 1121.08L217.86 1118.81L219.11 1116.47L220.34 1114.07L221.56 1111.59L222.81 1109.03L224.03 1106.4L225.28 1103.7L226.51 1100.92L227.75 1098.07L228.98 1095.18L230.22 1092.24L231.45 1089.27L232.69 1086.28L233.92 1083.29L235.16 1080.31L236.39 1077.36L237.64 1074.44L238.86 1071.58L240.11 1068.78L241.33 1066.04L242.58 1063.39L243.81 1060.8L245.05 1058.3L246.28 1055.87L247.52 1053.5L248.75 1051.19L249.99 1048.92L251.22 1046.69L252.47 1044.47L253.69 1042.25L254.94 1040L256.16 1037.73L257.41 1035.41L258.63 1033.02L259.88 1030.55L261.11 1028L262.35 1025.35L263.58 1022.6L264.82 1019.74L266.05 1016.79L267.29 1013.73L268.52 1010.59L269.77 1007.35L270.99 1004.05L272.24 1000.68L273.46 997.27L274.71 993.81L275.94 990.33L277.18 986.85L278.41 983.36L279.65 979.88L280.88 976.41L282.12 972.97L283.35 969.55L284.59 966.15L285.82 962.77L287.07 959.4L288.29 956.04L289.54 952.68L290.76 949.3L291.99 945.88L293.24 942.43L294.46 938.91L295.71 935.3L296.93 931.6L298.18 927.79L299.41 923.84L300.65 919.74L301.88 915.49L303.12 911.05L304.35 906.43L305.59 901.62L306.82 896.6L308.06 891.37L309.29 885.94L310.54 880.31L311.76 874.47L313.01 868.44L314.23 862.24L315.48 855.87L316.71 849.34L317.95 842.69L319.18 835.93L320.42 829.08L321.65 822.18L322.89 815.25L324.12 808.31L325.36 801.4L326.59 794.54L327.84 787.77L329.06 781.12L330.31 774.62L331.53 768.28L332.78 762.14L334.01 756.23L335.25 750.56L336.48 745.16L337.72 740.06L338.95 735.26L340.19 730.8L341.42 726.69L342.66 722.93L343.89 719.56L345.14 716.57L346.36 713.99L347.61 711.83L348.83 710.09L350.08 708.78L351.31 707.93L352.55 707.53L353.78 707.59L355.02 708.11L356.25 709.12L357.49 710.61L358.72 712.57L359.97 715.02L361.19 717.95L362.42 721.35L363.66 725.24L364.89 729.59L366.14 734.4L367.36 739.66L368.61 745.36L369.83 751.48L371.08 758L372.3 764.9L373.55 772.17L374.78 779.78L376.02 787.71L377.25 795.92L378.49 804.39L379.72 813.1L380.96 822.01L382.19 831.1L383.44 840.33L384.66 849.66L385.91 859.07L387.13 868.53L388.38 878L389.61 887.45L390.85 896.85L392.08 906.17L393.32 915.37L394.55 924.43L395.79 933.33L397.02 942.04L398.26 950.53L399.49 958.79L400.74 966.79L401.96 974.54L403.21 982.01L404.43 989.19L405.68 996.08L406.91 1002.69L408.15 1009L409.38 1015.03L410.62 1020.79L411.85 1026.27L413.09 1031.5L414.32 1036.48L415.56 1041.24L416.79 1045.78L418.04 1050.12L419.26 1054.28L420.51 1058.27L421.73 1062.11L422.98 1065.82L424.21 1069.4L425.45 1072.88L426.68 1076.26L427.92 1079.55L429.15 1082.76L430.39 1085.91L431.62 1088.99L432.85 1092.02L434.09 1094.99L435.32 1097.92L436.56 1100.81L437.79 1103.66L439.03 1106.47L440.26 1109.24L441.51 1111.98L442.73 1114.68L443.98 1117.35L445.2 1119.99L446.45 1122.6L447.68 1125.17L448.92 1127.71L450.15 1130.21L451.39 1132.68L452.62 1135.11L453.86 1137.49L455.09 1139.84L456.34 1142.13L457.56 1144.37L458.81 1146.56L460.03 1148.68L461.28 1150.74L462.5 1152.73L463.75 1154.64L464.98 1156.48L466.22 1158.24L467.45 1159.91L468.69 1161.5L469.92 1163.01L471.16 1164.42L472.39 1165.74L473.64 1166.98L474.86 1168.13L476.11 1169.19L477.33 1170.18L478.58 1171.1L479.81 1171.94L481.05 1172.71L482.28 1173.43L483.52 1174.08L484.75 1174.69L485.99 1175.26L487.22 1175.8L488.46 1176.3L489.69 1176.77L490.94 1177.23L492.16 1177.67L493.41 1178.1L494.63 1178.52L495.88 1178.93L497.11 1179.35L498.35 1179.77L499.58 1180.19L500.82 1180.62L502.05 1181.04L503.28 1181.48L504.52 1181.93L505.75 1182.38L506.99 1182.84L508.22 1183.31L509.46 1183.78L510.69 1184.27L511.93 1184.76L513.16 1185.26L514.41 1185.76L515.63 1186.27L516.88 1186.79L518.1 1187.31L519.35 1187.84L520.58 1188.37L521.82 1188.9L523.05 1189.44L524.29 1189.98L525.52 1190.52L526.76 1191.05L527.99 1191.59L529.23 1192.12L530.46 1192.64L531.71 1193.15L532.93 1193.65L534.18 1194.15L535.4 1194.62L536.65 1195.09L537.88 1195.53L539.12 1195.96L540.35 1196.37L541.59 1196.75L542.82 1197.12L544.06 1197.46L545.29 1197.78L546.54 1198.08L547.76 1198.35L549.01 1198.61L550.23 1198.84L551.48 1199.05L552.7 1199.24L553.95 1199.41L555.18 1199.56L556.42 1199.7L557.65 1199.82L558.89 1199.92L560.12 1200.02L561.36 1200.1L562.59 1200.17L563.84 1200.22L565.06 1200.27L566.31 1200.32L567.53 1200.35L568.78 1200.38L570.01 1200.41L571.25 1200.43L572.48 1200.45Z" fill="#F5DEB3"/>
<g clip-path="url(#c3)">
<line x1="276.37" y1="1220.24" x2="276.37" y2="687.81" stroke="#CD2626" stroke-width="1.5" stroke-dasharray="6 6" stroke-linecap="round"/>
</g>
<path d="M79.48 1200.45L80.71 1200.43L81.95 1200.41L83.18 1200.39L84.42 1200.36L85.65 1200.32L86.89 1200.28L88.12 1200.23L89.37 1200.18L90.59 1200.11L91.84 1200.04L93.06 1199.96L94.31 1199.86L95.54 1199.75L96.78 1199.63L98.01 1199.49L99.25 1199.34L100.48 1199.17L101.72 1198.99L102.95 1198.8L104.19 1198.59L105.42 1198.37L106.67 1198.13L107.89 1197.88L109.14 1197.62L110.36 1197.34L111.61 1197.06L112.84 1196.78L114.08 1196.5L115.31 1196.21L116.55 1195.93L117.78 1195.65L119.02 1195.38L120.25 1195.13L121.49 1194.89L122.72 1194.66L123.97 1194.46L125.19 1194.27L126.44 1194.1L127.66 1193.96L128.91 1193.84L130.14 1193.75L131.38 1193.67L132.61 1193.61L133.85 1193.57L135.08 1193.54L136.32 1193.52L137.55 1193.51L138.79 1193.5L140.02 1193.49L141.27 1193.48L142.49 1193.45L143.74 1193.4L144.96 1193.34L146.21 1193.25L147.44 1193.14L148.68 1192.99L149.91 1192.81L151.13 1192.59L152.38 1192.33L153.61 1192.04L154.85 1191.7L156.08 1191.33L157.32 1190.91L158.55 1190.46L159.79 1189.96L161.02 1189.43L162.26 1188.86L163.49 1188.26L164.74 1187.62L165.96 1186.95L167.21 1186.23L168.43 1185.49L169.68 1184.7L170.91 1183.88L172.15 1183.02L173.38 1182.12L174.62 1181.16L175.85 1180.17L177.09 1179.11L178.32 1178L179.57 1176.83L180.79 1175.61L182.04 1174.31L183.26 1172.95L184.51 1171.52L185.74 1170.02L186.98 1168.45L188.21 1166.82L189.45 1165.13L190.68 1163.37L191.92 1161.56L193.15 1159.71L194.39 1157.81L195.62 1155.87L196.87 1153.91L198.09 1151.92L199.34 1149.91L200.56 1147.9L201.81 1145.88L203.04 1143.86L204.28 1141.84L205.51 1139.81L206.75 1137.79L207.98 1135.77L209.22 1133.74L210.45 1131.7L211.69 1129.64L212.92 1127.56L214.17 1125.44L215.39 1123.28L216.64 1121.08L217.86 1118.81L219.11 1116.47L220.34 1114.07L221.56 1111.59L222.81 1109.03L224.03 1106.4L225.28 1103.7L226.51 1100.92L227.75 1098.07L228.98 1095.18L230.22 1092.24L231.45 1089.27L232.69 1086.28L233.92 1083.29L235.16 1080.31L236.39 1077.36L237.64 1074.44L238.86 1071.58L240.11 1068.78L241.33 1066.04L242.58 1063.39L243.81 1060.8L245.05 1058.3L246.28 1055.87L247.52 1053.5L248.75 1051.19L249.99 1048.92L251.22 1046.69L252.47 1044.47L253.69 1042.25L254.94 1040L256.16 1037.73L257.41 1035.41L258.63 1033.02L259.88 1030.55L261.11 1028L262.35 1025.35L263.58 1022.6L264.82 1019.74L266.05 1016.79L267.29 1013.73L268.52 1010.59L269.77 1007.35L270.99 1004.05L272.24 1000.68L273.46 997.27L274.71 993.81L275.94 990.33L277.18 986.85L278.41 983.36L279.65 979.88L280.88 976.41L282.12 972.97L283.35 969.55L284.59 966.15L285.82 962.77L287.07 959.4L288.29 956.04L289.54 952.68L290.76 949.3L291.99 945.88L293.24 942.43L294.46 938.91L295.71 935.3L296.93 931.6L298.18 927.79L299.41 923.84L300.65 919.74L301.88 915.49L303.12 911.05L304.35 906.43L305.59 901.62L306.82 896.6L308.06 891.37L309.29 885.94L310.54 880.31L311.76 874.47L313.01 868.44L314.23 862.24L315.48 855.87L316.71 849.34L317.95 842.69L319.18 835.93L320.42 829.08L321.65 822.18L322.89 815.25L324.12 808.31L325.36 801.4L326.59 794.54L327.84 787.77L329.06 781.12L330.31 774.62L331.53 768.28L332.78 762.14L334.01 756.23L335.25 750.56L336.48 745.16L337.72 740.06L338.95 735.26L340.19 730.8L341.42 726.69L342.66 722.93L343.89 719.56L345.14 716.57L346.36 713.99L347.61 711.83L348.83 710.09L350.08 708.78L351.31 707.93L352.55 707.53L353.78 707.59L355.02 708.11L356.25 709.12L357.49 710.61L358.72 712.57L359.97 715.02L361.19 717.95L362.42 721.35L363.66 725.24L364.89 729.59L366.14 734.4L367.36 739.66L368.61 745.36L369.83 751.48L371.08 758L372.3 764.9L373.55 772.17L374.78 779.78L376.02 787.71L377.25 795.92L378.49 804.39L379.72 813.1L380.96 822.01L382.19 831.1L383.44 840.33L384.66 849.66L385.91 859.07L387.13 868.53L388.38 878L389.61 887.45L390.85 896.85L392.08 906.17L393.32 915.37L394.55 924.43L395.79 933.33L397.02 942.04L398.26 950.53L399.49 958.79L400.74 966.79L401.96 974.54L403.21 982.01L404.43 989.19L405.68 996.08L406.91 1002.69L408.15 1009L409.38 1015.03L410.62 1020.79L411.85 1026.27L413.09 1031.5L414.32 1036.48L415.56 1041.24L416.79 1045.78L418.04 1050.12L419.26 1054.28L420.51 1058.27L421.73 1062.11L422.98 1065.82L424.21 1069.4L425.45 1072.88L426.68 1076.26L427.92 1079.55L429.15 1082.76L430.39 1085.91L431.62 1088.99L432.85 1092.02L434.09 1094.99L435.32 1097.92L436.56 1100.81L437.79 1103.66L439.03 1106.47L440.26 1109.24L441.51 1111.98L442.73 1114.68L443.98 1117.35L445.2 1119.99L446.45 1122.6L447.68 1125.17L448.92 1127.71L450.15 1130.21L451.39 1132.68L452.62 1135.11L453.86 1137.49L455.09 1139.84L456.34 1142.13L457.56 1144.37L458.81 1146.56L460.03 1148.68L461.28 1150.74L462.5 1152.73L463.75 1154.64L464.98 1156.48L466.22 1158.24L467.45 1159.91L468.69 1161.5L469.92 1163.01L471.16 1164.42L472.39 1165.74L473.64 1166.98L474.86 1168.13L476.11 1169.19L477.33 1170.18L478.58 1171.1L479.81 1171.94L481.05 1172.71L482.28 1173.43L483.52 1174.08L484.75 1174.69L485.99 1175.26L487.22 1175.8L488.46 1176.3L489.69 1176.77L490.94 1177.23L492.16 1177.67L493.41 1178.1L494.63 1178.52L495.88 1178.93L497.11 1179.35L498.35 1179.77L499.58 1180.19L500.82 1180.62L502.05 1181.04L503.28 1181.48L504.52 1181.93L505.75 1182.38L506.99 1182.84L508.22 1183.31L509.46 1183.78L510.69 1184.27L511.93 1184.76L513.16 1185.26L514.41 1185.76L515.63 1186.27L516.88 1186.79L518.1 1187.31L519.35 1187.84L520.58 1188.37L521.82 1188.9L523.05 1189.44L524.29 1189.98L525.52 1190.52L526.76 1191.05L527.99 1191.59L529.23 1192.12L530.46 1192.64L531.71 1193.15L532.93 1193.65L534.18 1194.15L535.4 1194.62L536.65 1195.09L537.88 1195.53L539.12 1195.96L540.35 1196.37L541.59 1196.75L542.82 1197.12L544.06 1197.46L545.29 1197.78L546.54 1198.08L547.76 1198.35L549.01 1198.61L550.23 1198.84L551.48 1199.05L552.7 1199.24L553.95 1199.41L555.18 1199.56L556.42 1199.7L557.65 1199.82L558.89 1199.92L560.12 1200.02L561.36 1200.1L562.59 1200.17L563.84 1200.22L565.06 1200.27L566.31 1200.32L567.53 1200.35L568.78 1200.38L570.01 1200.41L571.25 1200.43L572.48 1200.45Z" fill="none" stroke="#000" stroke-width="1.125" stroke-linejoin="round"/>
<rect x="59.76" y="687.81" width="532.43" height="532.43" fill="none" stroke="#000" stroke-width="0.75"/>
<path d="M110.4 1220.24H561.4M110.4 1220.24v5.98M200.6 1220.24v5.98M290.8 1220.24v5.98M381 1220.24v5.98M471.2 1220.24v5.98M561.4 1220.24v5.98M59.76 1200.52V688.47M59.76 1200.52h-5.98M59.76 1127.37h-5.98M59.76 1054.22h-5.98M59.76 981.07h-5.98M59.76 907.92h-5.98M59.76 834.77h-5.98M59.76 761.62h-5.98M59.76 688.47h-5.98" fill="none" stroke="#000" stroke-width="0.75"/>
<g class="tk">
<text x="110.4" y="1242">75</text>
<text x="200.6" y="1242">80</text>
<text x="290.8" y="1242">85</text>
<text x="381" y="1242">90</text>
<text x="471.2" y="1242">95</text>
<text x="561.4" y="1242">100</text>
<text transform="translate(44.5 1200.52) rotate(-90)">0.00</text>
<text transform="translate(44.5 1127.37) rotate(-90)">0.02</text>
<text transform="translate(44.5 1054.22) rotate(-90)">0.04</text>
<text transform="translate(44.5 981.07) rotate(-90)">0.06</text>
<text transform="translate(44.5 907.92) rotate(-90)">0.08</text>
<text transform="translate(44.5 834.77) rotate(-90)">0.10</text>
<text transform="translate(44.5 761.62) rotate(-90)">0.12</text>
<text transform="translate(44.5 688.47) rotate(-90)">0.14</text>
</g>
<text class="lab" x="325.98" y="1266.2">Motif score</text>
<text class="lab" transform="translate(21.4 954.02) rotate(-90)">Density</text>
<text class="ttl" x="325.98" y="671.6">Motif score threshold: 84.200</text>
</g>
<g id="p4">
<path d="M719.42 1199.93L720.66 1199.84L721.89 1199.74L723.13 1199.63L724.36 1199.5L725.6 1199.36L726.83 1199.19L728.07 1199.01L729.31 1198.8L730.54 1198.57L731.78 1198.31L733.01 1198.02L734.25 1197.7L735.49 1197.35L736.72 1196.96L737.96 1196.52L739.19 1196.04L740.43 1195.5L741.66 1194.91L742.9 1194.27L744.14 1193.57L745.37 1192.79L746.61 1191.95L747.84 1191.03L749.08 1190.03L750.31 1188.94L751.55 1187.76L752.79 1186.49L754.02 1185.12L755.26 1183.64L756.49 1182.04L757.73 1180.33L758.97 1178.5L760.2 1176.54L761.44 1174.45L762.67 1172.22L763.91 1169.85L765.14 1167.33L766.38 1164.67L767.62 1161.85L768.85 1158.87L770.09 1155.74L771.32 1152.44L772.56 1148.99L773.8 1145.37L775.03 1141.58L776.27 1137.63L777.5 1133.52L778.74 1129.24L779.97 1124.8L781.21 1120.2L782.45 1115.45L783.68 1110.55L784.92 1105.49L786.15 1100.3L787.39 1094.97L788.62 1089.51L789.86 1083.92L791.1 1078.23L792.33 1072.42L793.57 1066.52L794.8 1060.53L796.04 1054.45L797.28 1048.31L798.51 1042.1L799.75 1035.85L800.98 1029.56L802.22 1023.24L803.45 1016.9L804.69 1010.56L805.93 1004.23L807.16 997.9L808.4 991.61L809.63 985.35L810.87 979.14L812.11 972.99L813.34 966.9L814.58 960.88L815.82 954.95L817.05 949.11L818.29 943.37L819.52 937.74L820.76 932.21L821.99 926.81L823.23 921.53L824.47 916.37L825.7 911.35L826.94 906.46L828.17 901.71L829.41 897.1L830.65 892.62L831.88 888.29L833.12 884.1L834.35 880.05L835.59 876.14L836.82 872.37L838.06 868.74L839.3 865.24L840.53 861.88L841.77 858.66L843 855.56L844.24 852.58L845.47 849.73L846.71 847.01L847.95 844.39L849.18 841.89L850.42 839.51L851.65 837.23L852.89 835.05L854.13 832.98L855.36 831L856.6 829.12L857.83 827.33L859.07 825.64L860.3 824.03L861.54 822.51L862.78 821.07L864.01 819.71L865.25 818.43L866.48 817.23L867.72 816.11L868.95 815.05L870.19 814.08L871.43 813.17L872.66 812.33L873.9 811.56L875.13 810.86L876.37 810.23L877.61 809.65L878.84 809.13L880.08 808.68L881.31 808.28L882.55 807.93L883.78 807.63L885.02 807.37L886.26 807.16L887.49 806.99L888.73 806.85L889.96 806.74L891.2 806.65L892.44 806.58L893.67 806.52L894.91 806.47L896.14 806.42L897.38 806.37L898.61 806.29L899.85 806.2L901.09 806.08L902.32 805.92L903.56 805.72L904.79 805.46L906.03 805.15L907.26 804.77L908.5 804.31L909.74 803.77L910.97 803.15L912.21 802.43L913.44 801.6L914.68 800.67L915.92 799.62L917.15 798.46L918.39 797.18L919.62 795.77L920.86 794.24L922.09 792.58L923.33 790.79L924.57 788.88L925.8 786.84L927.04 784.67L928.27 782.39L929.51 779.99L930.74 777.48L931.98 774.87L933.22 772.16L934.45 769.37L935.69 766.5L936.92 763.56L938.16 760.57L939.4 757.54L940.63 754.48L941.87 751.4L943.1 748.32L944.34 745.25L945.57 742.21L946.81 739.21L948.05 736.27L949.28 733.39L950.52 730.61L951.75 727.92L952.99 725.35L954.22 722.9L955.46 720.6L956.7 718.46L957.93 716.48L959.17 714.67L960.4 713.06L961.64 711.63L962.88 710.41L964.11 709.4L965.35 708.6L966.58 708.03L967.82 707.67L969.05 707.55L970.29 707.65L971.53 707.97L972.76 708.51L974 709.28L975.23 710.27L976.47 711.47L977.71 712.87L978.94 714.48L980.18 716.28L981.41 718.27L982.65 720.43L983.88 722.76L985.12 725.25L986.36 727.89L987.59 730.66L988.83 733.56L990.06 736.58L991.3 739.7L992.53 742.91L993.77 746.21L995.01 749.58L996.24 753.01L997.48 756.48L998.71 759.99L999.95 763.53L1001.19 767.08L1002.42 770.64L1003.66 774.2L1004.89 777.75L1006.13 781.27L1007.36 784.76L1008.6 788.21L1009.84 791.62L1011.07 794.97L1012.31 798.25L1013.54 801.46L1014.78 804.6L1016.01 807.65L1017.25 810.61L1018.49 813.48L1019.72 816.24L1020.96 818.9L1022.19 821.44L1023.43 823.86L1024.67 826.17L1025.9 828.35L1027.14 830.4L1028.37 832.32L1029.61 834.11L1030.84 835.75L1032.08 837.26L1033.32 838.63L1034.55 839.85L1035.79 840.93L1037.02 841.87L1038.26 842.67L1039.49 843.32L1040.73 843.83L1041.97 844.19L1043.2 844.42L1044.44 844.51L1045.67 844.47L1046.91 844.3L1048.15 843.99L1049.38 843.56L1050.62 843.02L1051.85 842.36L1053.09 841.59L1054.32 840.72L1055.56 839.75L1056.8 838.69L1058.03 837.55L1059.27 836.33L1060.5 835.05L1061.74 833.7L1062.98 832.31L1064.21 830.87L1065.45 829.4L1066.68 827.9L1067.92 826.4L1069.15 824.89L1070.39 823.38L1071.63 821.9L1072.86 820.44L1074.1 819.03L1075.33 817.66L1076.57 816.37L1077.8 815.15L1079.04 814.01L1080.28 812.98L1081.51 812.06L1082.75 811.26L1083.98 810.61L1085.22 810.1L1086.46 809.76L1087.69 809.58L1088.93 809.6L1090.16 809.81L1091.4 810.23L1092.63 810.88L1093.87 811.75L1095.11 812.86L1096.34 814.22L1097.58 815.85L1098.81 817.73L1100.05 819.9L1101.28 822.34L1102.52 825.07L1103.76 828.09L1104.99 831.4L1106.23 835.01L1107.46 838.91L1108.7 843.11L1109.94 847.6L1111.17 852.39L1112.41 857.45L1113.64 862.8L1114.88 868.42L1116.11 874.31L1117.35 880.45L1118.59 886.83L1119.82 893.45L1121.06 900.29L1122.29 907.33L1123.53 914.55L1124.77 921.96L1126 929.51L1127.24 937.2L1128.47 945.01L1129.71 952.92L1130.94 960.91L1132.18 968.96L1133.42 977.04L1134.65 985.15L1135.89 993.26L1137.12 1001.35L1138.36 1009.4L1139.59 1017.4L1140.83 1025.32L1142.07 1033.14L1143.3 1040.86L1144.54 1048.45L1145.77 1055.91L1147.01 1063.21L1148.25 1070.34L1149.48 1077.3L1150.72 1084.07L1151.95 1090.64L1153.19 1097L1154.42 1103.15L1155.66 1109.09L1156.9 1114.8L1158.13 1120.29L1159.37 1125.54L1160.6 1130.57L1161.84 1135.37L1163.07 1139.94L1164.31 1144.29L1165.55 1148.41L1166.78 1152.31L1168.02 1155.99L1169.25 1159.46L1170.49 1162.72L1171.73 1165.79L1172.96 1168.66L1174.2 1171.34L1175.43 1173.84L1176.67 1176.17L1177.9 1178.34L1179.14 1180.35L1180.38 1182.2L1181.61 1183.92L1182.85 1185.5L1184.08 1186.95L1185.32 1188.29L1186.55 1189.51L1187.79 1190.63L1189.03 1191.65L1190.26 1192.58L1191.5 1193.42L1192.73 1194.19L1193.97 1194.88L1195.21 1195.51L1196.44 1196.07L1197.68 1196.58L1198.91 1197.04L1200.15 1197.45L1201.38 1197.81L1202.62 1198.14L1203.86 1198.43L1205.09 1198.69L1206.33 1198.92L1207.56 1199.12L1208.8 1199.3L1210.04 1199.46L1211.27 1199.6L1212.51 1199.72Z" fill="#F5DEB3"/>
<g clip-path="url(#c4)">
<line x1="957.58" y1="1220.24" x2="957.58" y2="687.81" stroke="#006400" stroke-width="1.5" stroke-dasharray="6 6" stroke-linecap="round"/>
<line x1="974.02" y1="1220.24" x2="974.02" y2="687.81" stroke="#006400" stroke-width="1.5" stroke-dasharray="6 6" stroke-linecap="round"/>
</g>
<path d="M719.42 1199.93L720.66 1199.84L721.89 1199.74L723.13 1199.63L724.36 1199.5L725.6 1199.36L726.83 1199.19L728.07 1199.01L729.31 1198.8L730.54 1198.57L731.78 1198.31L733.01 1198.02L734.25 1197.7L735.49 1197.35L736.72 1196.96L737.96 1196.52L739.19 1196.04L740.43 1195.5L741.66 1194.91L742.9 1194.27L744.14 1193.57L745.37 1192.79L746.61 1191.95L747.84 1191.03L749.08 1190.03L750.31 1188.94L751.55 1187.76L752.79 1186.49L754.02 1185.12L755.26 1183.64L756.49 1182.04L757.73 1180.33L758.97 1178.5L760.2 1176.54L761.44 1174.45L762.67 1172.22L763.91 1169.85L765.14 1167.33L766.38 1164.67L767.62 1161.85L768.85 1158.87L770.09 1155.74L771.32 1152.44L772.56 1148.99L773.8 1145.37L775.03 1141.58L776.27 1137.63L777.5 1133.52L778.74 1129.24L779.97 1124.8L781.21 1120.2L782.45 1115.45L783.68 1110.55L784.92 1105.49L786.15 1100.3L787.39 1094.97L788.62 1089.51L789.86 1083.92L791.1 1078.23L792.33 1072.42L793.57 1066.52L794.8 1060.53L796.04 1054.45L797.28 1048.31L798.51 1042.1L799.75 1035.85L800.98 1029.56L802.22 1023.24L803.45 1016.9L804.69 1010.56L805.93 1004.23L807.16 997.9L808.4 991.61L809.63 985.35L810.87 979.14L812.11 972.99L813.34 966.9L814.58 960.88L815.82 954.95L817.05 949.11L818.29 943.37L819.52 937.74L820.76 932.21L821.99 926.81L823.23 921.53L824.47 916.37L825.7 911.35L826.94 906.46L828.17 901.71L829.41 897.1L830.65 892.62L831.88 888.29L833.12 884.1L834.35 880.05L835.59 876.14L836.82 872.37L838.06 868.74L839.3 865.24L840.53 861.88L841.77 858.66L843 855.56L844.24 852.58L845.47 849.73L846.71 847.01L847.95 844.39L849.18 841.89L850.42 839.51L851.65 837.23L852.89 835.05L854.13 832.98L855.36 831L856.6 829.12L857.83 827.33L859.07 825.64L860.3 824.03L861.54 822.51L862.78 821.07L864.01 819.71L865.25 818.43L866.48 817.23L867.72 816.11L868.95 815.05L870.19 814.08L871.43 813.17L872.66 812.33L873.9 811.56L875.13 810.86L876.37 810.23L877.61 809.65L878.84 809.13L880.08 808.68L881.31 808.28L882.55 807.93L883.78 807.63L885.02 807.37L886.26 807.16L887.49 806.99L888.73 806.85L889.96 806.74L891.2 806.65L892.44 806.58L893.67 806.52L894.91 806.47L896.14 806.42L897.38 806.37L898.61 806.29L899.85 806.2L901.09 806.08L902.32 805.92L903.56 805.72L904.79 805.46L906.03 805.15L907.26 804.77L908.5 804.31L909.74 803.77L910.97 803.15L912.21 802.43L913.44 801.6L914.68 800.67L915.92 799.62L917.15 798.46L918.39 797.18L919.62 795.77L920.86 794.24L922.09 792.58L923.33 790.79L924.57 788.88L925.8 786.84L927.04 784.67L928.27 782.39L929.51 779.99L930.74 777.48L931.98 774.87L933.22 772.16L934.45 769.37L935.69 766.5L936.92 763.56L938.16 760.57L939.4 757.54L940.63 754.48L941.87 751.4L943.1 748.32L944.34 745.25L945.57 742.21L946.81 739.21L948.05 736.27L949.28 733.39L950.52 730.61L951.75 727.92L952.99 725.35L954.22 722.9L955.46 720.6L956.7 718.46L957.93 716.48L959.17 714.67L960.4 713.06L961.64 711.63L962.88 710.41L964.11 709.4L965.35 708.6L966.58 708.03L967.82 707.67L969.05 707.55L970.29 707.65L971.53 707.97L972.76 708.51L974 709.28L975.23 710.27L976.47 711.47L977.71 712.87L978.94 714.48L980.18 716.28L981.41 718.27L982.65 720.43L983.88 722.76L985.12 725.25L986.36 727.89L987.59 730.66L988.83 733.56L990.06 736.58L991.3 739.7L992.53 742.91L993.77 746.21L995.01 749.58L996.24 753.01L997.48 756.48L998.71 759.99L999.95 763.53L1001.19 767.08L1002.42 770.64L1003.66 774.2L1004.89 777.75L1006.13 781.27L1007.36 784.76L1008.6 788.21L1009.84 791.62L1011.07 794.97L1012.31 798.25L1013.54 801.46L1014.78 804.6L1016.01 807.65L1017.25 810.61L1018.49 813.48L1019.72 816.24L1020.96 818.9L1022.19 821.44L1023.43 823.86L1024.67 826.17L1025.9 828.35L1027.14 830.4L1028.37 832.32L1029.61 834.11L1030.84 835.75L1032.08 837.26L1033.32 838.63L1034.55 839.85L1035.79 840.93L1037.02 841.87L1038.26 842.67L1039.49 843.32L1040.73 843.83L1041.97 844.19L1043.2 844.42L1044.44 844.51L1045.67 844.47L1046.91 844.3L1048.15 843.99L1049.38 843.56L1050.62 843.02L1051.85 842.36L1053.09 841.59L1054.32 840.72L1055.56 839.75L1056.8 838.69L1058.03 837.55L1059.27 836.33L1060.5 835.05L1061.74 833.7L1062.98 832.31L1064.21 830.87L1065.45 829.4L1066.68 827.9L1067.92 826.4L1069.15 824.89L1070.39 823.38L1071.63 821.9L1072.86 820.44L1074.1 819.03L1075.33 817.66L1076.57 816.37L1077.8 815.15L1079.04 814.01L1080.28 812.98L1081.51 812.06L1082.75 811.26L1083.98 810.61L1085.22 810.1L1086.46 809.76L1087.69 809.58L1088.93 809.6L1090.16 809.81L1091.4 810.23L1092.63 810.88L1093.87 811.75L1095.11 812.86L1096.34 814.22L1097.58 815.85L1098.81 817.73L1100.05 819.9L1101.28 822.34L1102.52 825.07L1103.76 828.09L1104.99 831.4L1106.23 835.01L1107.46 838.91L1108.7 843.11L1109.94 847.6L1111.17 852.39L1112.41 857.45L1113.64 862.8L1114.88 868.42L1116.11 874.31L1117.35 880.45L1118.59 886.83L1119.82 893.45L1121.06 900.29L1122.29 907.33L1123.53 914.55L1124.77 921.96L1126 929.51L1127.24 937.2L1128.47 945.01L1129.71 952.92L1130.94 960.91L1132.18 968.96L1133.42 977.04L1134.65 985.15L1135.89 993.26L1137.12 1001.35L1138.36 1009.4L1139.59 1017.4L1140.83 1025.32L1142.07 1033.14L1143.3 1040.86L1144.54 1048.45L1145.77 1055.91L1147.01 1063.21L1148.25 1070.34L1149.48 1077.3L1150.72 1084.07L1151.95 1090.64L1153.19 1097L1154.42 1103.15L1155.66 1109.09L1156.9 1114.8L1158.13 1120.29L1159.37 1125.54L1160.6 1130.57L1161.84 1135.37L1163.07 1139.94L1164.31 1144.29L1165.55 1148.41L1166.78 1152.31L1168.02 1155.99L1169.25 1159.46L1170.49 1162.72L1171.73 1165.79L1172.96 1168.66L1174.2 1171.34L1175.43 1173.84L1176.67 1176.17L1177.9 1178.34L1179.14 1180.35L1180.38 1182.2L1181.61 1183.92L1182.85 1185.5L1184.08 1186.95L1185.32 1188.29L1186.55 1189.51L1187.79 1190.63L1189.03 1191.65L1190.26 1192.58L1191.5 1193.42L1192.73 1194.19L1193.97 1194.88L1195.21 1195.51L1196.44 1196.07L1197.68 1196.58L1198.91 1197.04L1200.15 1197.45L1201.38 1197.81L1202.62 1198.14L1203.86 1198.43L1205.09 1198.69L1206.33 1198.92L1207.56 1199.12L1208.8 1199.3L1210.04 1199.46L1211.27 1199.6L1212.51 1199.72Z" fill="none" stroke="#000" stroke-width="1.125" stroke-linejoin="round"/>
<rect x="699.76" y="687.81" width="532.43" height="532.43" fill="none" stroke="#000" stroke-width="0.75"/>
<path d="M801.35 1220.24H1130.25M801.35 1220.24v5.98M965.8 1220.24v5.98M1130.25 1220.24v5.98M699.76 1200.52V709.47M699.76 1200.52h-5.98M699.76 1118.68h-5.98M699.76 1036.84h-5.98M699.76 955h-5.98M699.76 873.15h-5.98M699.76 791.31h-5.98M699.76 709.47h-5.98" fill="none" stroke="#000" stroke-width="0.75"/>
<g class="tk">
<text x="801.35" y="1242">-500</text>
<text x="965.8" y="1242">0</text>
<text x="1130.25" y="1242">500</text>
<text transform="translate(684.5 1200.52) rotate(-90)">0.0000</text>
<text transform="translate(684.5 1118.68) rotate(-90)">0.0002</text>
<text transform="translate(684.5 1036.84) rotate(-90)">0.0004</text>
<text transform="translate(684.5 955) rotate(-90)">0.0006</text>
<text transform="translate(684.5 873.15) rotate(-90)">0.0008</text>
<text transform="translate(684.5 791.31) rotate(-90)">0.0010</text>
<text transform="translate(684.5 709.47) rotate(-90)">0.0012</text>
</g>
<text class="lab" x="965.98" y="1266.2">Distance to peak summit</text>
<text class="lab" transform="translate(661.4 954.02) rotate(-90)">Density</text>
<text class="ttl" x="965.98" y="671.6">Enrichment zone: 25.00</text>
<line x1="1017.6" y1="703.45" x2="1041.5" y2="703.45" stroke="#006400" stroke-width="1.125" stroke-dasharray="1.125 3.375" stroke-linecap="round"/>
<line x1="1017.6" y1="718.9" x2="1041.5" y2="718.9" stroke="#CD2626" stroke-width="1.125" stroke-dasharray="1.125 3.375" stroke-linecap="round"/>
<ellipse cx="1029.1" cy="734.5" rx="3" ry="2.6" fill="#00f"/>
<g class="lg"><text x="1052" y="707.8">enrichment zone = 25</text><text x="1052" y="723.5">motif score threshold = 84.200</text><text x="1052" y="739">centrality p-val = NS</text></g>
</g>
</svg>
</body></html>
